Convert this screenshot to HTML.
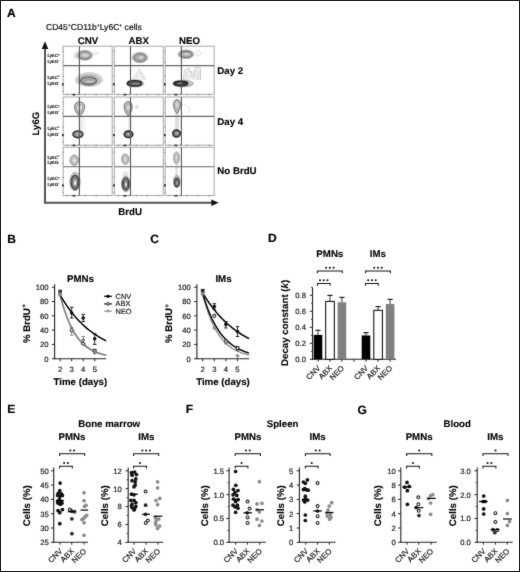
<!DOCTYPE html>
<html><head><meta charset="utf-8"><style>
html,body{margin:0;padding:0;background:#fff;}
svg{display:block;opacity:0.999;}
svg text{font-family:"Liberation Sans", sans-serif;text-rendering:geometricPrecision;}
</style></head><body>
<svg width="520" height="572" viewBox="0 0 520 572">
<defs><filter id="bl" x="-20%" y="-20%" width="140%" height="140%"><feGaussianBlur stdDeviation="0.5"/></filter>
<filter id="gb" x="0" y="0" width="520" height="572" filterUnits="userSpaceOnUse" color-interpolation-filters="sRGB"><feConvolveMatrix order="3" kernelMatrix="1 2 1 2 28 2 1 2 1" edgeMode="duplicate"/></filter></defs>
<rect x="0" y="0" width="520" height="572" fill="#fff"/>
<g filter="url(#gb)">
<text font-size="12" font-weight="bold" text-anchor="start" fill="#000" stroke="#000" stroke-width="0.2"  transform="translate(7.00,16.70) scale(1,1.0)">A</text>
<text font-size="8.55" fill="#111" stroke="#111" stroke-width="0.2" transform="translate(46,30.4) scale(1,1.0)">CD45<tspan font-size="5" dy="-3">+</tspan><tspan dy="3">CD11b</tspan><tspan font-size="5" dy="-3">+</tspan><tspan dy="3">Ly6C</tspan><tspan font-size="5" dy="-3">+</tspan><tspan dy="3"> cells</tspan></text>
<text font-size="9.7" font-weight="bold" text-anchor="middle" fill="#000" stroke="#000" stroke-width="0.12"  transform="translate(88.00,44.00) scale(1,1.0)">CNV</text>
<text font-size="9.7" font-weight="bold" text-anchor="middle" fill="#000" stroke="#000" stroke-width="0.12"  transform="translate(138.80,44.00) scale(1,1.0)">ABX</text>
<text font-size="9.7" font-weight="bold" text-anchor="middle" fill="#000" stroke="#000" stroke-width="0.12"  transform="translate(189.50,44.00) scale(1,1.0)">NEO</text>
<rect x="63.20" y="46.20" width="49" height="48.2" fill="#fff" stroke="#b0b0b0" stroke-width="1.1"/>
<g filter="url(#bl)">
<ellipse cx="76.50" cy="55.50" rx="3.00" ry="3.60" fill="#e2e2e2" fill-opacity="1.0"/>
<ellipse cx="84.80" cy="55.30" rx="8.00" ry="5.00" fill="#d2d2d2" stroke="#b0b0b0" stroke-width="0.8"/>
<ellipse cx="84.80" cy="55.30" rx="6.20" ry="3.80" fill="#b4b4b4" stroke="#777" stroke-width="1.1"/>
<ellipse cx="85.30" cy="55.30" rx="3.60" ry="2.10" fill="#d6d6d6" stroke="#a8a8a8" stroke-width="0.8"/>
<ellipse cx="96.00" cy="53.50" rx="3.00" ry="2.20" fill="#eeeeee" fill-opacity="1.0"/>
<ellipse cx="78.00" cy="80.50" rx="3.20" ry="3.40" fill="#e2e2e2" fill-opacity="1.0"/>
<ellipse cx="89.20" cy="79.60" rx="13.40" ry="6.90" fill="#dadada" stroke="#c0c0c0" stroke-width="0.8"/>
<ellipse cx="89.00" cy="80.20" rx="10.60" ry="5.30" fill="#c4c4c4" stroke="#a0a0a0" stroke-width="0.9"/>
<ellipse cx="88.60" cy="80.80" rx="8.00" ry="3.80" fill="#a4a4a4" stroke="#5a5a5a" stroke-width="1.1"/>
<ellipse cx="89.80" cy="81.50" rx="4.80" ry="1.40" fill="#cfcfcf" stroke="#8a8a8a" stroke-width="0.7"/>
</g>
<line x1="79.40" y1="46.20" x2="79.40" y2="94.40" stroke="#555" stroke-width="1.1" />
<line x1="63.20" y1="65.60" x2="112.20" y2="65.60" stroke="#666" stroke-width="1.1" />
<line x1="67.20" y1="93.80" x2="67.20" y2="95.40" stroke="#777" stroke-width="0.8" />
<line x1="72.20" y1="93.80" x2="72.20" y2="95.40" stroke="#777" stroke-width="0.8" />
<line x1="78.20" y1="93.80" x2="78.20" y2="95.40" stroke="#777" stroke-width="0.8" />
<line x1="85.20" y1="93.80" x2="85.20" y2="95.40" stroke="#777" stroke-width="0.8" />
<line x1="96.20" y1="93.80" x2="96.20" y2="95.40" stroke="#777" stroke-width="0.8" />
<line x1="107.20" y1="93.80" x2="107.20" y2="95.40" stroke="#777" stroke-width="0.8" />
<rect x="72.80" y="93.90" width="2.6" height="1.5" fill="#222"/>
<line x1="62.20" y1="51.20" x2="63.70" y2="51.20" stroke="#888" stroke-width="0.8" />
<line x1="62.20" y1="62.20" x2="63.70" y2="62.20" stroke="#888" stroke-width="0.8" />
<line x1="62.20" y1="76.20" x2="63.70" y2="76.20" stroke="#888" stroke-width="0.8" />
<line x1="62.20" y1="84.20" x2="63.70" y2="84.20" stroke="#888" stroke-width="0.8" />
<line x1="62.20" y1="91.20" x2="63.70" y2="91.20" stroke="#888" stroke-width="0.8" />
<rect x="62.00" y="83.20" width="1.6" height="2.2" fill="#222"/>
<rect x="114.30" y="46.20" width="49" height="48.2" fill="#fff" stroke="#b0b0b0" stroke-width="1.1"/>
<g filter="url(#bl)">
<ellipse cx="140.00" cy="57.60" rx="7.90" ry="5.20" fill="#c8c8c8" stroke="#a8a8a8" stroke-width="0.8"/>
<ellipse cx="140.00" cy="57.60" rx="6.00" ry="3.90" fill="#acacac" stroke="#777" stroke-width="1.1"/>
<ellipse cx="140.80" cy="57.40" rx="3.00" ry="2.00" fill="#d0d0d0" stroke="#a0a0a0" stroke-width="0.8"/>
<path d="M132,80 L139.5,68.5 L146,80" fill="#f0f0f0" stroke="#cfcfcf" stroke-width="0.7"/>
<path d="M135,80 L140,72 L144,80" fill="none" stroke="#d8d8d8" stroke-width="0.6"/>
<ellipse cx="135.00" cy="83.40" rx="9.00" ry="3.60" fill="#d8d8d8" stroke="#b0b0b0" stroke-width="0.8"/>
<ellipse cx="134.60" cy="83.40" rx="7.20" ry="2.70" fill="#555" stroke="#222" stroke-width="1.3"/>
<ellipse cx="135.80" cy="83.60" rx="4.00" ry="0.90" fill="#8a8a8a" fill-opacity="1.0"/>
</g>
<line x1="130.50" y1="46.20" x2="130.50" y2="94.40" stroke="#555" stroke-width="1.1" />
<line x1="114.30" y1="65.60" x2="163.30" y2="65.60" stroke="#666" stroke-width="1.1" />
<line x1="118.30" y1="93.80" x2="118.30" y2="95.40" stroke="#777" stroke-width="0.8" />
<line x1="123.30" y1="93.80" x2="123.30" y2="95.40" stroke="#777" stroke-width="0.8" />
<line x1="129.30" y1="93.80" x2="129.30" y2="95.40" stroke="#777" stroke-width="0.8" />
<line x1="136.30" y1="93.80" x2="136.30" y2="95.40" stroke="#777" stroke-width="0.8" />
<line x1="147.30" y1="93.80" x2="147.30" y2="95.40" stroke="#777" stroke-width="0.8" />
<line x1="158.30" y1="93.80" x2="158.30" y2="95.40" stroke="#777" stroke-width="0.8" />
<rect x="123.90" y="93.90" width="2.6" height="1.5" fill="#222"/>
<line x1="113.30" y1="51.20" x2="114.80" y2="51.20" stroke="#888" stroke-width="0.8" />
<line x1="113.30" y1="62.20" x2="114.80" y2="62.20" stroke="#888" stroke-width="0.8" />
<line x1="113.30" y1="76.20" x2="114.80" y2="76.20" stroke="#888" stroke-width="0.8" />
<line x1="113.30" y1="84.20" x2="114.80" y2="84.20" stroke="#888" stroke-width="0.8" />
<line x1="113.30" y1="91.20" x2="114.80" y2="91.20" stroke="#888" stroke-width="0.8" />
<rect x="113.10" y="83.20" width="1.6" height="2.2" fill="#222"/>
<rect x="165.20" y="46.20" width="49" height="48.2" fill="#fff" stroke="#b0b0b0" stroke-width="1.1"/>
<g filter="url(#bl)">
<ellipse cx="186.00" cy="54.30" rx="8.00" ry="4.30" fill="#cccccc" stroke="#aaaaaa" stroke-width="0.8"/>
<ellipse cx="186.00" cy="54.30" rx="6.20" ry="3.20" fill="#b0b0b0" stroke="#707070" stroke-width="1.1"/>
<ellipse cx="186.50" cy="54.30" rx="3.40" ry="1.60" fill="#d4d4d4" stroke="#a0a0a0" stroke-width="0.8"/>
<path d="M196,52 L199,50 L201,54 L197,56 Z" fill="none" stroke="#cccccc" stroke-width="0.6"/>
<path d="M183.5,80 L184.5,70 L189,68 L192.5,74 L196,67 L200.5,68 L200.5,80" fill="#f2f2f2" stroke="#b8b8b8" stroke-width="0.7"/>
<path d="M186,80 L187,72 L189.5,71 L193,77 L196.5,70 L198.5,71 L198.5,80" fill="none" stroke="#c4c4c4" stroke-width="0.6"/>
<path d="M188.5,80 L190,75 L193.5,79 L196.5,74 L197,80" fill="none" stroke="#cccccc" stroke-width="0.6"/>
<ellipse cx="183.00" cy="83.60" rx="10.40" ry="3.30" fill="#c8c8c8" stroke="#9a9a9a" stroke-width="0.8"/>
<ellipse cx="180.80" cy="83.60" rx="7.20" ry="2.50" fill="#3a3a3a" stroke="#222" stroke-width="1.1"/>
<ellipse cx="179.80" cy="83.30" rx="2.80" ry="0.80" fill="#8a8a8a" fill-opacity="1.0"/>
</g>
<line x1="181.40" y1="46.20" x2="181.40" y2="94.40" stroke="#555" stroke-width="1.1" />
<line x1="165.20" y1="65.60" x2="214.20" y2="65.60" stroke="#666" stroke-width="1.1" />
<line x1="169.20" y1="93.80" x2="169.20" y2="95.40" stroke="#777" stroke-width="0.8" />
<line x1="174.20" y1="93.80" x2="174.20" y2="95.40" stroke="#777" stroke-width="0.8" />
<line x1="180.20" y1="93.80" x2="180.20" y2="95.40" stroke="#777" stroke-width="0.8" />
<line x1="187.20" y1="93.80" x2="187.20" y2="95.40" stroke="#777" stroke-width="0.8" />
<line x1="198.20" y1="93.80" x2="198.20" y2="95.40" stroke="#777" stroke-width="0.8" />
<line x1="209.20" y1="93.80" x2="209.20" y2="95.40" stroke="#777" stroke-width="0.8" />
<rect x="174.80" y="93.90" width="2.6" height="1.5" fill="#222"/>
<line x1="164.20" y1="51.20" x2="165.70" y2="51.20" stroke="#888" stroke-width="0.8" />
<line x1="164.20" y1="62.20" x2="165.70" y2="62.20" stroke="#888" stroke-width="0.8" />
<line x1="164.20" y1="76.20" x2="165.70" y2="76.20" stroke="#888" stroke-width="0.8" />
<line x1="164.20" y1="84.20" x2="165.70" y2="84.20" stroke="#888" stroke-width="0.8" />
<line x1="164.20" y1="91.20" x2="165.70" y2="91.20" stroke="#888" stroke-width="0.8" />
<rect x="164.00" y="83.20" width="1.6" height="2.2" fill="#222"/>
<text font-size="4.6" fill="#000" stroke="#000" stroke-width="0.15" transform="translate(47.4,57.40) scale(1,1.0)">Ly6C<tspan font-size="3" dy="-1.6">+</tspan></text>
<text font-size="4.6" fill="#000" stroke="#000" stroke-width="0.15" transform="translate(47.4,63.00) scale(1,1.0)">Ly6G<tspan font-size="3" dy="-1.6">-</tspan></text>
<text font-size="4.6" fill="#000" stroke="#000" stroke-width="0.15" transform="translate(47.4,79.00) scale(1,1.0)">Ly6C<tspan font-size="3" dy="-1.6">+</tspan></text>
<text font-size="4.6" fill="#000" stroke="#000" stroke-width="0.15" transform="translate(47.4,84.90) scale(1,1.0)">Ly6G<tspan font-size="3" dy="-1.6">-</tspan></text>
<rect x="63.20" y="97.00" width="49" height="48.2" fill="#fff" stroke="#b0b0b0" stroke-width="1.1"/>
<g filter="url(#bl)">
<rect x="79.00" y="115.00" width="4.00" height="16.00" fill="#efefef"/>
<path d="M79.5,118 L80,130" stroke="#d0d0d0" stroke-width="0.8" stroke-dasharray="1.5 1"/>
<path d="M83,117 L83.5,130" stroke="#d6d6d6" stroke-width="0.8" stroke-dasharray="1.2 1.2"/>
<path d="M85,119 L86,131" stroke="#e0e0e0" stroke-width="0.7" stroke-dasharray="1 1.2"/>
<path d="M79.60,116.20 C72.50,111.16 72.20,101.80 79.60,101.80 C87.00,101.80 86.70,111.16 79.60,116.20Z" fill="#c0c0c0"/>
<ellipse cx="79.60" cy="107.27" rx="2.90" ry="3.17" fill="#dadada"/>
<path d="M79.6,116.2 C73.0,111 72.6,101.8 79.6,101.8 C86.6,101.8 86.2,111 79.6,116.2Z" fill="none" stroke="#7a7a7a" stroke-width="0.9"/>
<path d="M79.6,113.5 C75.2,110 75.0,104.3 79.6,104.3 C84.2,104.3 84.0,110 79.6,113.5Z" fill="none" stroke="#9a9a9a" stroke-width="0.8"/>
<ellipse cx="77.90" cy="134.30" rx="5.00" ry="3.40" fill="#888" stroke="#2a2a2a" stroke-width="1.4"/>
<ellipse cx="78.30" cy="134.30" rx="2.60" ry="1.40" fill="#b4b4b4" fill-opacity="1.0"/>
</g>
<line x1="79.40" y1="97.00" x2="79.40" y2="145.20" stroke="#555" stroke-width="1.1" />
<line x1="63.20" y1="116.40" x2="112.20" y2="116.40" stroke="#666" stroke-width="1.1" />
<line x1="67.20" y1="144.60" x2="67.20" y2="146.20" stroke="#777" stroke-width="0.8" />
<line x1="72.20" y1="144.60" x2="72.20" y2="146.20" stroke="#777" stroke-width="0.8" />
<line x1="78.20" y1="144.60" x2="78.20" y2="146.20" stroke="#777" stroke-width="0.8" />
<line x1="85.20" y1="144.60" x2="85.20" y2="146.20" stroke="#777" stroke-width="0.8" />
<line x1="96.20" y1="144.60" x2="96.20" y2="146.20" stroke="#777" stroke-width="0.8" />
<line x1="107.20" y1="144.60" x2="107.20" y2="146.20" stroke="#777" stroke-width="0.8" />
<rect x="72.80" y="144.70" width="2.6" height="1.5" fill="#222"/>
<line x1="62.20" y1="102.00" x2="63.70" y2="102.00" stroke="#888" stroke-width="0.8" />
<line x1="62.20" y1="113.00" x2="63.70" y2="113.00" stroke="#888" stroke-width="0.8" />
<line x1="62.20" y1="127.00" x2="63.70" y2="127.00" stroke="#888" stroke-width="0.8" />
<line x1="62.20" y1="135.00" x2="63.70" y2="135.00" stroke="#888" stroke-width="0.8" />
<line x1="62.20" y1="142.00" x2="63.70" y2="142.00" stroke="#888" stroke-width="0.8" />
<rect x="62.00" y="134.00" width="1.6" height="2.2" fill="#222"/>
<rect x="114.30" y="97.00" width="49" height="48.2" fill="#fff" stroke="#b0b0b0" stroke-width="1.1"/>
<g filter="url(#bl)">
<rect x="127.90" y="115.00" width="3.20" height="16.00" fill="#ededed"/>
<path d="M131,118 L131.5,130" stroke="#d8d8d8" stroke-width="0.7" stroke-dasharray="1.2 1.2"/>
<path d="M128.20,116.00 C122.50,110.96 122.20,101.60 128.20,101.60 C134.20,101.60 133.90,110.96 128.20,116.00Z" fill="#b8b8b8"/>
<ellipse cx="128.20" cy="107.07" rx="2.29" ry="3.17" fill="#d4d4d4"/>
<path d="M128.2,116 C123.0,111 122.6,101.6 128.2,101.6 C133.8,101.6 133.4,111 128.2,116Z" fill="none" stroke="#7a7a7a" stroke-width="0.9"/>
<path d="M128.2,113 C124.8,110 124.6,104.2 128.2,104.2 C131.8,104.2 131.6,110 128.2,113Z" fill="none" stroke="#9a9a9a" stroke-width="0.8"/>
<ellipse cx="137.00" cy="107.00" rx="2.20" ry="2.20" fill="#e6e6e6" fill-opacity="1.0"/>
<ellipse cx="128.50" cy="134.30" rx="4.40" ry="3.30" fill="#777" stroke="#222" stroke-width="1.4"/>
<ellipse cx="128.80" cy="134.30" rx="2.20" ry="1.30" fill="#aaaaaa" fill-opacity="1.0"/>
</g>
<line x1="130.50" y1="97.00" x2="130.50" y2="145.20" stroke="#555" stroke-width="1.1" />
<line x1="114.30" y1="116.40" x2="163.30" y2="116.40" stroke="#666" stroke-width="1.1" />
<line x1="118.30" y1="144.60" x2="118.30" y2="146.20" stroke="#777" stroke-width="0.8" />
<line x1="123.30" y1="144.60" x2="123.30" y2="146.20" stroke="#777" stroke-width="0.8" />
<line x1="129.30" y1="144.60" x2="129.30" y2="146.20" stroke="#777" stroke-width="0.8" />
<line x1="136.30" y1="144.60" x2="136.30" y2="146.20" stroke="#777" stroke-width="0.8" />
<line x1="147.30" y1="144.60" x2="147.30" y2="146.20" stroke="#777" stroke-width="0.8" />
<line x1="158.30" y1="144.60" x2="158.30" y2="146.20" stroke="#777" stroke-width="0.8" />
<rect x="123.90" y="144.70" width="2.6" height="1.5" fill="#222"/>
<line x1="113.30" y1="102.00" x2="114.80" y2="102.00" stroke="#888" stroke-width="0.8" />
<line x1="113.30" y1="113.00" x2="114.80" y2="113.00" stroke="#888" stroke-width="0.8" />
<line x1="113.30" y1="127.00" x2="114.80" y2="127.00" stroke="#888" stroke-width="0.8" />
<line x1="113.30" y1="135.00" x2="114.80" y2="135.00" stroke="#888" stroke-width="0.8" />
<line x1="113.30" y1="142.00" x2="114.80" y2="142.00" stroke="#888" stroke-width="0.8" />
<rect x="113.10" y="134.00" width="1.6" height="2.2" fill="#222"/>
<rect x="165.20" y="97.00" width="49" height="48.2" fill="#fff" stroke="#b0b0b0" stroke-width="1.1"/>
<g filter="url(#bl)">
<rect x="175.20" y="110.00" width="3.60" height="21.00" fill="#dcdcdc"/>
<path d="M181,104 L186,105 L190,110 L186,114" fill="none" stroke="#d8d8d8" stroke-width="0.7"/>
<path d="M180,118 L181,128" stroke="#d0d0d0" stroke-width="0.7" stroke-dasharray="1.2 1"/>
<path d="M177.00,113.60 C172.20,108.70 171.90,99.60 177.00,99.60 C182.10,99.60 181.80,108.70 177.00,113.60Z" fill="#b4b4b4"/>
<ellipse cx="177.00" cy="104.92" rx="1.89" ry="3.08" fill="#d0d0d0"/>
<path d="M177,113.6 C172.7,109 172.3,99.6 177,99.6 C181.7,99.6 181.3,109 177,113.6Z" fill="none" stroke="#6e6e6e" stroke-width="0.9"/>
<ellipse cx="176.50" cy="133.50" rx="3.80" ry="3.50" fill="#777" stroke="#2a2a2a" stroke-width="1.4"/>
<ellipse cx="176.80" cy="133.30" rx="1.80" ry="1.50" fill="#a8a8a8" fill-opacity="1.0"/>
</g>
<line x1="181.40" y1="97.00" x2="181.40" y2="145.20" stroke="#555" stroke-width="1.1" />
<line x1="165.20" y1="116.40" x2="214.20" y2="116.40" stroke="#666" stroke-width="1.1" />
<line x1="169.20" y1="144.60" x2="169.20" y2="146.20" stroke="#777" stroke-width="0.8" />
<line x1="174.20" y1="144.60" x2="174.20" y2="146.20" stroke="#777" stroke-width="0.8" />
<line x1="180.20" y1="144.60" x2="180.20" y2="146.20" stroke="#777" stroke-width="0.8" />
<line x1="187.20" y1="144.60" x2="187.20" y2="146.20" stroke="#777" stroke-width="0.8" />
<line x1="198.20" y1="144.60" x2="198.20" y2="146.20" stroke="#777" stroke-width="0.8" />
<line x1="209.20" y1="144.60" x2="209.20" y2="146.20" stroke="#777" stroke-width="0.8" />
<rect x="174.80" y="144.70" width="2.6" height="1.5" fill="#222"/>
<line x1="164.20" y1="102.00" x2="165.70" y2="102.00" stroke="#888" stroke-width="0.8" />
<line x1="164.20" y1="113.00" x2="165.70" y2="113.00" stroke="#888" stroke-width="0.8" />
<line x1="164.20" y1="127.00" x2="165.70" y2="127.00" stroke="#888" stroke-width="0.8" />
<line x1="164.20" y1="135.00" x2="165.70" y2="135.00" stroke="#888" stroke-width="0.8" />
<line x1="164.20" y1="142.00" x2="165.70" y2="142.00" stroke="#888" stroke-width="0.8" />
<rect x="164.00" y="134.00" width="1.6" height="2.2" fill="#222"/>
<text font-size="4.6" fill="#000" stroke="#000" stroke-width="0.15" transform="translate(47.4,108.20) scale(1,1.0)">Ly6C<tspan font-size="3" dy="-1.6">+</tspan></text>
<text font-size="4.6" fill="#000" stroke="#000" stroke-width="0.15" transform="translate(47.4,113.80) scale(1,1.0)">Ly6G<tspan font-size="3" dy="-1.6">-</tspan></text>
<text font-size="4.6" fill="#000" stroke="#000" stroke-width="0.15" transform="translate(47.4,129.80) scale(1,1.0)">Ly6C<tspan font-size="3" dy="-1.6">+</tspan></text>
<text font-size="4.6" fill="#000" stroke="#000" stroke-width="0.15" transform="translate(47.4,135.70) scale(1,1.0)">Ly6G<tspan font-size="3" dy="-1.6">-</tspan></text>
<rect x="63.20" y="147.30" width="49" height="48.2" fill="#fff" stroke="#b0b0b0" stroke-width="1.1"/>
<g filter="url(#bl)">
<ellipse cx="74.30" cy="160.20" rx="4.30" ry="5.20" fill="#c8c8c8" stroke="#8e8e8e" stroke-width="0.9"/>
<ellipse cx="74.30" cy="160.20" rx="2.80" ry="3.40" fill="#d0d0d0" stroke="#a4a4a4" stroke-width="0.8"/>
<ellipse cx="74.60" cy="160.50" rx="1.20" ry="1.60" fill="#e4e4e4" fill-opacity="1.0"/>
<ellipse cx="75.50" cy="174.50" rx="3.50" ry="3.50" fill="#e4e4e4" fill-opacity="1.0"/>
<ellipse cx="75.00" cy="181.80" rx="5.20" ry="9.00" fill="#c8c8c8" stroke="#9a9a9a" stroke-width="0.8"/>
<ellipse cx="75.00" cy="182.30" rx="3.90" ry="7.00" fill="#8c8c8c" stroke="#3a3a3a" stroke-width="1.2"/>
<ellipse cx="75.00" cy="182.60" rx="2.30" ry="4.40" fill="#b8b8b8" stroke="#555" stroke-width="0.9"/>
<ellipse cx="75.20" cy="183.00" rx="1.00" ry="1.80" fill="#f4f4f4" fill-opacity="1.0"/>
</g>
<line x1="79.40" y1="147.30" x2="79.40" y2="195.50" stroke="#555" stroke-width="1.1" />
<line x1="63.20" y1="166.70" x2="112.20" y2="166.70" stroke="#666" stroke-width="1.1" />
<line x1="67.20" y1="194.90" x2="67.20" y2="196.50" stroke="#777" stroke-width="0.8" />
<line x1="72.20" y1="194.90" x2="72.20" y2="196.50" stroke="#777" stroke-width="0.8" />
<line x1="78.20" y1="194.90" x2="78.20" y2="196.50" stroke="#777" stroke-width="0.8" />
<line x1="85.20" y1="194.90" x2="85.20" y2="196.50" stroke="#777" stroke-width="0.8" />
<line x1="96.20" y1="194.90" x2="96.20" y2="196.50" stroke="#777" stroke-width="0.8" />
<line x1="107.20" y1="194.90" x2="107.20" y2="196.50" stroke="#777" stroke-width="0.8" />
<rect x="72.80" y="195.00" width="2.6" height="1.5" fill="#222"/>
<line x1="62.20" y1="152.30" x2="63.70" y2="152.30" stroke="#888" stroke-width="0.8" />
<line x1="62.20" y1="163.30" x2="63.70" y2="163.30" stroke="#888" stroke-width="0.8" />
<line x1="62.20" y1="177.30" x2="63.70" y2="177.30" stroke="#888" stroke-width="0.8" />
<line x1="62.20" y1="185.30" x2="63.70" y2="185.30" stroke="#888" stroke-width="0.8" />
<line x1="62.20" y1="192.30" x2="63.70" y2="192.30" stroke="#888" stroke-width="0.8" />
<rect x="62.00" y="184.30" width="1.6" height="2.2" fill="#222"/>
<rect x="114.30" y="147.30" width="49" height="48.2" fill="#fff" stroke="#b0b0b0" stroke-width="1.1"/>
<g filter="url(#bl)">
<ellipse cx="125.30" cy="159.20" rx="3.70" ry="5.20" fill="#c8c8c8" stroke="#8e8e8e" stroke-width="0.9"/>
<ellipse cx="125.30" cy="159.20" rx="2.30" ry="3.30" fill="#d0d0d0" stroke="#a4a4a4" stroke-width="0.8"/>
<ellipse cx="125.60" cy="159.50" rx="1.00" ry="1.50" fill="#e0e0e0" fill-opacity="1.0"/>
<ellipse cx="125.50" cy="175.00" rx="3.00" ry="3.50" fill="#e4e4e4" fill-opacity="1.0"/>
<ellipse cx="125.80" cy="184.00" rx="4.30" ry="7.80" fill="#b8b8b8" stroke="#888" stroke-width="0.8"/>
<ellipse cx="125.80" cy="184.00" rx="3.20" ry="6.00" fill="#7a7a7a" stroke="#333" stroke-width="1.2"/>
<ellipse cx="125.80" cy="184.30" rx="1.80" ry="3.50" fill="#b0b0b0" stroke="#555" stroke-width="0.8"/>
<ellipse cx="126.00" cy="184.50" rx="0.80" ry="1.50" fill="#eeeeee" fill-opacity="1.0"/>
</g>
<line x1="130.50" y1="147.30" x2="130.50" y2="195.50" stroke="#555" stroke-width="1.1" />
<line x1="114.30" y1="166.70" x2="163.30" y2="166.70" stroke="#666" stroke-width="1.1" />
<line x1="118.30" y1="194.90" x2="118.30" y2="196.50" stroke="#777" stroke-width="0.8" />
<line x1="123.30" y1="194.90" x2="123.30" y2="196.50" stroke="#777" stroke-width="0.8" />
<line x1="129.30" y1="194.90" x2="129.30" y2="196.50" stroke="#777" stroke-width="0.8" />
<line x1="136.30" y1="194.90" x2="136.30" y2="196.50" stroke="#777" stroke-width="0.8" />
<line x1="147.30" y1="194.90" x2="147.30" y2="196.50" stroke="#777" stroke-width="0.8" />
<line x1="158.30" y1="194.90" x2="158.30" y2="196.50" stroke="#777" stroke-width="0.8" />
<rect x="123.90" y="195.00" width="2.6" height="1.5" fill="#222"/>
<line x1="113.30" y1="152.30" x2="114.80" y2="152.30" stroke="#888" stroke-width="0.8" />
<line x1="113.30" y1="163.30" x2="114.80" y2="163.30" stroke="#888" stroke-width="0.8" />
<line x1="113.30" y1="177.30" x2="114.80" y2="177.30" stroke="#888" stroke-width="0.8" />
<line x1="113.30" y1="185.30" x2="114.80" y2="185.30" stroke="#888" stroke-width="0.8" />
<line x1="113.30" y1="192.30" x2="114.80" y2="192.30" stroke="#888" stroke-width="0.8" />
<rect x="113.10" y="184.30" width="1.6" height="2.2" fill="#222"/>
<rect x="165.20" y="147.30" width="49" height="48.2" fill="#fff" stroke="#b0b0b0" stroke-width="1.1"/>
<g filter="url(#bl)">
<ellipse cx="176.50" cy="158.00" rx="3.00" ry="6.20" fill="#c4c4c4" stroke="#a0a0a0" stroke-width="0.8"/>
<ellipse cx="176.50" cy="158.00" rx="1.80" ry="4.20" fill="#d8d8d8" stroke="#a0a0a0" stroke-width="0.8"/>
<rect x="175.40" y="164.00" width="2.20" height="12.00" fill="#dcdcdc"/>
<ellipse cx="176.80" cy="181.50" rx="3.30" ry="6.20" fill="#c4c4c4" stroke="#9a9a9a" stroke-width="0.8"/>
<ellipse cx="176.80" cy="182.50" rx="2.50" ry="4.50" fill="#666" stroke="#3a3a3a" stroke-width="1.0"/>
<ellipse cx="177.00" cy="183.00" rx="1.10" ry="2.00" fill="#9a9a9a" fill-opacity="1.0"/>
</g>
<line x1="181.40" y1="147.30" x2="181.40" y2="195.50" stroke="#555" stroke-width="1.1" />
<line x1="165.20" y1="166.70" x2="214.20" y2="166.70" stroke="#666" stroke-width="1.1" />
<line x1="169.20" y1="194.90" x2="169.20" y2="196.50" stroke="#777" stroke-width="0.8" />
<line x1="174.20" y1="194.90" x2="174.20" y2="196.50" stroke="#777" stroke-width="0.8" />
<line x1="180.20" y1="194.90" x2="180.20" y2="196.50" stroke="#777" stroke-width="0.8" />
<line x1="187.20" y1="194.90" x2="187.20" y2="196.50" stroke="#777" stroke-width="0.8" />
<line x1="198.20" y1="194.90" x2="198.20" y2="196.50" stroke="#777" stroke-width="0.8" />
<line x1="209.20" y1="194.90" x2="209.20" y2="196.50" stroke="#777" stroke-width="0.8" />
<rect x="174.80" y="195.00" width="2.6" height="1.5" fill="#222"/>
<line x1="164.20" y1="152.30" x2="165.70" y2="152.30" stroke="#888" stroke-width="0.8" />
<line x1="164.20" y1="163.30" x2="165.70" y2="163.30" stroke="#888" stroke-width="0.8" />
<line x1="164.20" y1="177.30" x2="165.70" y2="177.30" stroke="#888" stroke-width="0.8" />
<line x1="164.20" y1="185.30" x2="165.70" y2="185.30" stroke="#888" stroke-width="0.8" />
<line x1="164.20" y1="192.30" x2="165.70" y2="192.30" stroke="#888" stroke-width="0.8" />
<rect x="164.00" y="184.30" width="1.6" height="2.2" fill="#222"/>
<text font-size="4.6" fill="#000" stroke="#000" stroke-width="0.15" transform="translate(47.4,158.50) scale(1,1.0)">Ly6C<tspan font-size="3" dy="-1.6">+</tspan></text>
<text font-size="4.6" fill="#000" stroke="#000" stroke-width="0.15" transform="translate(47.4,164.10) scale(1,1.0)">Ly6G<tspan font-size="3" dy="-1.6">-</tspan></text>
<text font-size="4.6" fill="#000" stroke="#000" stroke-width="0.15" transform="translate(47.4,180.10) scale(1,1.0)">Ly6C<tspan font-size="3" dy="-1.6">+</tspan></text>
<text font-size="4.6" fill="#000" stroke="#000" stroke-width="0.15" transform="translate(47.4,186.00) scale(1,1.0)">Ly6G<tspan font-size="3" dy="-1.6">-</tspan></text>
<line x1="45.00" y1="203.60" x2="45.00" y2="47.50" stroke="#555" stroke-width="2" />
<polygon points="45,41.2 41.7,49 48.3,49" fill="#111"/>
<line x1="44.00" y1="202.70" x2="212.00" y2="202.70" stroke="#555" stroke-width="2" />
<polygon points="218.6,202.7 211.4,199.5 211.4,205.9" fill="#111"/>
<text font-size="9.6" font-weight="bold" text-anchor="middle" fill="#000" stroke="#000" stroke-width="0.12" transform="translate(39.2,123.6) rotate(-90) scale(1,1.0)">Ly6G</text>
<text font-size="9.7" font-weight="bold" text-anchor="middle" fill="#000" stroke="#000" stroke-width="0.12"  transform="translate(130.20,214.60) scale(1,1.0)">BrdU</text>
<text font-size="9.7" font-weight="bold" text-anchor="start" fill="#000" stroke="#000" stroke-width="0.12"  transform="translate(217.30,73.60) scale(1,1.0)">Day 2</text>
<text font-size="9.7" font-weight="bold" text-anchor="start" fill="#000" stroke="#000" stroke-width="0.12"  transform="translate(217.30,124.60) scale(1,1.0)">Day 4</text>
<text font-size="9.7" font-weight="bold" text-anchor="start" fill="#000" stroke="#000" stroke-width="0.12"  transform="translate(217.30,174.30) scale(1,1.0)">No BrdU</text>
<line x1="54.60" y1="284.20" x2="54.60" y2="359.20" stroke="#222" stroke-width="1.1" />
<line x1="54.10" y1="358.70" x2="106.20" y2="358.70" stroke="#222" stroke-width="1.1" />
<line x1="51.90" y1="358.70" x2="54.60" y2="358.70" stroke="#222" stroke-width="1" />
<text font-size="7.7" text-anchor="end" fill="#222" stroke="#222" stroke-width="0.2"  transform="translate(48.60,361.60) scale(1,1.0)">0</text>
<line x1="51.90" y1="344.41" x2="54.60" y2="344.41" stroke="#222" stroke-width="1" />
<text font-size="7.7" text-anchor="end" fill="#222" stroke="#222" stroke-width="0.2"  transform="translate(48.60,347.31) scale(1,1.0)">20</text>
<line x1="51.90" y1="330.12" x2="54.60" y2="330.12" stroke="#222" stroke-width="1" />
<text font-size="7.7" text-anchor="end" fill="#222" stroke="#222" stroke-width="0.2"  transform="translate(48.60,333.02) scale(1,1.0)">40</text>
<line x1="51.90" y1="315.83" x2="54.60" y2="315.83" stroke="#222" stroke-width="1" />
<text font-size="7.7" text-anchor="end" fill="#222" stroke="#222" stroke-width="0.2"  transform="translate(48.60,318.73) scale(1,1.0)">60</text>
<line x1="51.90" y1="301.54" x2="54.60" y2="301.54" stroke="#222" stroke-width="1" />
<text font-size="7.7" text-anchor="end" fill="#222" stroke="#222" stroke-width="0.2"  transform="translate(48.60,304.44) scale(1,1.0)">80</text>
<line x1="51.90" y1="287.25" x2="54.60" y2="287.25" stroke="#222" stroke-width="1" />
<text font-size="7.7" text-anchor="end" fill="#222" stroke="#222" stroke-width="0.2"  transform="translate(48.60,290.15) scale(1,1.0)">100</text>
<line x1="60.20" y1="358.70" x2="60.20" y2="361.30" stroke="#222" stroke-width="1" />
<text font-size="7.7" text-anchor="middle" fill="#222" stroke="#222" stroke-width="0.2"  transform="translate(60.20,371.70) scale(1,1.0)">2</text>
<line x1="71.70" y1="358.70" x2="71.70" y2="361.30" stroke="#222" stroke-width="1" />
<text font-size="7.7" text-anchor="middle" fill="#222" stroke="#222" stroke-width="0.2"  transform="translate(71.70,371.70) scale(1,1.0)">3</text>
<line x1="83.20" y1="358.70" x2="83.20" y2="361.30" stroke="#222" stroke-width="1" />
<text font-size="7.7" text-anchor="middle" fill="#222" stroke="#222" stroke-width="0.2"  transform="translate(83.20,371.70) scale(1,1.0)">4</text>
<line x1="94.80" y1="358.70" x2="94.80" y2="361.30" stroke="#222" stroke-width="1" />
<text font-size="7.7" text-anchor="middle" fill="#222" stroke="#222" stroke-width="0.2"  transform="translate(94.80,371.70) scale(1,1.0)">5</text>
<text font-size="9.7" font-weight="bold" text-anchor="middle" fill="#000" stroke="#000" stroke-width="0.12"  transform="translate(80.50,281.60) scale(1,1.0)">PMNs</text>
<text font-size="9.7" font-weight="bold" text-anchor="middle" fill="#000" stroke="#000" stroke-width="0.12"  transform="translate(80.40,385.30) scale(1,1.0)">Time (days)</text>
<text font-size="9.7" font-weight="bold" stroke="#000" stroke-width="0.12" text-anchor="middle" transform="translate(29.80,323.6) rotate(-90) scale(1,1.0)">% BrdU<tspan font-size="6.4" dy="-3.5" dx="0.3">+</tspan></text>
<polyline points="60.20,295.11 61.35,299.53 62.50,303.64 63.65,307.46 64.80,311.02 65.95,314.33 67.10,317.42 68.25,320.28 69.40,322.95 70.55,325.44 71.70,327.75 72.85,329.90 74.00,331.90 75.15,333.76 76.30,335.49 77.45,337.10 78.60,338.61 79.75,340.00 80.90,341.30 82.05,342.51 83.20,343.63 84.35,344.68 85.50,345.65 86.65,346.56 87.80,347.40 88.95,348.19 90.10,348.92 91.25,349.60 92.40,350.23 93.55,350.82 94.70,351.37 95.85,351.88 97.00,352.35 98.15,352.79 99.30,353.20 100.45,353.58 101.60,353.94 102.75,354.27 103.90,354.58 105.05,354.86 106.20,355.13" fill="none" stroke="#808080" stroke-width="1.5"/>
<polyline points="60.20,295.11 61.35,299.65 62.50,303.86 63.65,307.77 64.80,311.40 65.95,314.78 67.10,317.91 68.25,320.82 69.40,323.52 70.55,326.03 71.70,328.36 72.85,330.52 74.00,332.53 75.15,334.40 76.30,336.13 77.45,337.74 78.60,339.24 79.75,340.63 80.90,341.92 82.05,343.11 83.20,344.22 84.35,345.26 85.50,346.22 86.65,347.11 87.80,347.93 88.95,348.70 90.10,349.41 91.25,350.08 92.40,350.69 93.55,351.26 94.70,351.79 95.85,352.29 97.00,352.74 98.15,353.17 99.30,353.56 100.45,353.93 101.60,354.27 102.75,354.59 103.90,354.88 105.05,355.15 106.20,355.40" fill="none" stroke="#888" stroke-width="1.4"/>
<polyline points="60.20,295.11 61.35,297.10 62.50,299.03 63.65,300.90 64.80,302.70 65.95,304.46 67.10,306.16 68.25,307.80 69.40,309.39 70.55,310.94 71.70,312.43 72.85,313.88 74.00,315.28 75.15,316.64 76.30,317.96 77.45,319.23 78.60,320.47 79.75,321.66 80.90,322.82 82.05,323.95 83.20,325.03 84.35,326.09 85.50,327.11 86.65,328.10 87.80,329.06 88.95,329.98 90.10,330.88 91.25,331.75 92.40,332.60 93.55,333.41 94.70,334.21 95.85,334.97 97.00,335.71 98.15,336.43 99.30,337.13 100.45,337.81 101.60,338.46 102.75,339.09 103.90,339.71 105.05,340.30 106.20,340.88" fill="none" stroke="#000" stroke-width="1.5"/>
<line x1="60.20" y1="294.39" x2="60.20" y2="290.11" stroke="#222" stroke-width="0.9" />
<line x1="58.40" y1="294.39" x2="62.00" y2="294.39" stroke="#222" stroke-width="0.9" />
<line x1="58.40" y1="290.11" x2="62.00" y2="290.11" stroke="#222" stroke-width="0.9" />
<rect x="58.40" y="290.45" width="3.6" height="3.6" fill="#222"/>
<line x1="60.20" y1="295.82" x2="60.20" y2="292.97" stroke="#888" stroke-width="0.9" />
<line x1="58.40" y1="295.82" x2="62.00" y2="295.82" stroke="#888" stroke-width="0.9" />
<line x1="58.40" y1="292.97" x2="62.00" y2="292.97" stroke="#888" stroke-width="0.9" />
<rect x="58.40" y="292.59" width="3.6" height="3.6" fill="#888"/>
<line x1="71.70" y1="317.97" x2="71.70" y2="307.26" stroke="#111" stroke-width="0.9" />
<line x1="69.90" y1="317.97" x2="73.50" y2="317.97" stroke="#111" stroke-width="0.9" />
<line x1="69.90" y1="307.26" x2="73.50" y2="307.26" stroke="#111" stroke-width="0.9" />
<circle cx="71.70" cy="312.97" r="1.8" fill="#111"/>
<line x1="71.70" y1="335.12" x2="71.70" y2="327.26" stroke="#777" stroke-width="0.9" />
<line x1="69.90" y1="335.12" x2="73.50" y2="335.12" stroke="#777" stroke-width="0.9" />
<line x1="69.90" y1="327.26" x2="73.50" y2="327.26" stroke="#777" stroke-width="0.9" />
<polygon points="71.70,328.73 73.80,330.83 71.70,332.93 69.60,330.83" fill="#777"/>
<circle cx="71.70" cy="330.12" r="1.5" fill="#fff" stroke="#555" stroke-width="1.1"/>
<line x1="83.20" y1="321.55" x2="83.20" y2="314.40" stroke="#111" stroke-width="0.9" />
<line x1="81.40" y1="321.55" x2="85.00" y2="321.55" stroke="#111" stroke-width="0.9" />
<line x1="81.40" y1="314.40" x2="85.00" y2="314.40" stroke="#111" stroke-width="0.9" />
<circle cx="83.20" cy="317.97" r="1.8" fill="#111"/>
<line x1="83.20" y1="343.70" x2="83.20" y2="336.55" stroke="#777" stroke-width="0.9" />
<line x1="81.40" y1="343.70" x2="85.00" y2="343.70" stroke="#777" stroke-width="0.9" />
<line x1="81.40" y1="336.55" x2="85.00" y2="336.55" stroke="#777" stroke-width="0.9" />
<polygon points="83.20,338.02 85.30,340.12 83.20,342.22 81.10,340.12" fill="#777"/>
<circle cx="83.20" cy="343.70" r="1.5" fill="#fff" stroke="#333" stroke-width="1.1"/>
<line x1="94.70" y1="344.41" x2="94.70" y2="333.69" stroke="#111" stroke-width="0.9" />
<line x1="92.90" y1="344.41" x2="96.50" y2="344.41" stroke="#111" stroke-width="0.9" />
<line x1="92.90" y1="333.69" x2="96.50" y2="333.69" stroke="#111" stroke-width="0.9" />
<circle cx="94.70" cy="338.69" r="1.8" fill="#111"/>
<line x1="94.70" y1="352.98" x2="94.70" y2="349.41" stroke="#333" stroke-width="0.9" />
<line x1="92.90" y1="352.98" x2="96.50" y2="352.98" stroke="#333" stroke-width="0.9" />
<line x1="92.90" y1="349.41" x2="96.50" y2="349.41" stroke="#333" stroke-width="0.9" />
<circle cx="94.70" cy="350.84" r="1.5" fill="#fff" stroke="#333" stroke-width="1.1"/>
<polygon points="94.70,350.88 96.80,352.98 94.70,355.08 92.60,352.98" fill="#888"/>
<line x1="104.20" y1="296.30" x2="111.90" y2="296.30" stroke="#000" stroke-width="1.3" />
<circle cx="108" cy="296.3" r="1.6" fill="#000"/>
<text font-size="7.4" text-anchor="start" fill="#222" stroke="#222" stroke-width="0.2"  transform="translate(115.60,298.80) scale(1,1.0)">CNV</text>
<line x1="104.20" y1="303.90" x2="111.90" y2="303.90" stroke="#222" stroke-width="1.3" />
<circle cx="108" cy="303.9" r="1.4" fill="#fff" stroke="#222" stroke-width="1"/>
<text font-size="7.4" text-anchor="start" fill="#222" stroke="#222" stroke-width="0.2"  transform="translate(115.60,306.40) scale(1,1.0)">ABX</text>
<line x1="104.20" y1="311.10" x2="111.90" y2="311.10" stroke="#999" stroke-width="1.3" />
<polygon points="108,309.3 109.8,311.1 108,312.90000000000003 106.2,311.1" fill="#999"/>
<text font-size="7.4" text-anchor="start" fill="#222" stroke="#222" stroke-width="0.2"  transform="translate(115.60,313.60) scale(1,1.0)">NEO</text>
<text font-size="12" font-weight="bold" text-anchor="start" fill="#000" stroke="#000" stroke-width="0.2"  transform="translate(155.00,242.50) scale(1,1.0)"></text>
<line x1="196.90" y1="284.20" x2="196.90" y2="359.20" stroke="#222" stroke-width="1.1" />
<line x1="196.40" y1="358.70" x2="249.10" y2="358.70" stroke="#222" stroke-width="1.1" />
<line x1="194.20" y1="358.70" x2="196.90" y2="358.70" stroke="#222" stroke-width="1" />
<text font-size="7.7" text-anchor="end" fill="#222" stroke="#222" stroke-width="0.2"  transform="translate(190.90,361.60) scale(1,1.0)">0</text>
<line x1="194.20" y1="344.41" x2="196.90" y2="344.41" stroke="#222" stroke-width="1" />
<text font-size="7.7" text-anchor="end" fill="#222" stroke="#222" stroke-width="0.2"  transform="translate(190.90,347.31) scale(1,1.0)">20</text>
<line x1="194.20" y1="330.12" x2="196.90" y2="330.12" stroke="#222" stroke-width="1" />
<text font-size="7.7" text-anchor="end" fill="#222" stroke="#222" stroke-width="0.2"  transform="translate(190.90,333.02) scale(1,1.0)">40</text>
<line x1="194.20" y1="315.83" x2="196.90" y2="315.83" stroke="#222" stroke-width="1" />
<text font-size="7.7" text-anchor="end" fill="#222" stroke="#222" stroke-width="0.2"  transform="translate(190.90,318.73) scale(1,1.0)">60</text>
<line x1="194.20" y1="301.54" x2="196.90" y2="301.54" stroke="#222" stroke-width="1" />
<text font-size="7.7" text-anchor="end" fill="#222" stroke="#222" stroke-width="0.2"  transform="translate(190.90,304.44) scale(1,1.0)">80</text>
<line x1="194.20" y1="287.25" x2="196.90" y2="287.25" stroke="#222" stroke-width="1" />
<text font-size="7.7" text-anchor="end" fill="#222" stroke="#222" stroke-width="0.2"  transform="translate(190.90,290.15) scale(1,1.0)">100</text>
<line x1="202.70" y1="358.70" x2="202.70" y2="361.30" stroke="#222" stroke-width="1" />
<text font-size="7.7" text-anchor="middle" fill="#222" stroke="#222" stroke-width="0.2"  transform="translate(202.70,371.70) scale(1,1.0)">2</text>
<line x1="214.30" y1="358.70" x2="214.30" y2="361.30" stroke="#222" stroke-width="1" />
<text font-size="7.7" text-anchor="middle" fill="#222" stroke="#222" stroke-width="0.2"  transform="translate(214.30,371.70) scale(1,1.0)">3</text>
<line x1="225.90" y1="358.70" x2="225.90" y2="361.30" stroke="#222" stroke-width="1" />
<text font-size="7.7" text-anchor="middle" fill="#222" stroke="#222" stroke-width="0.2"  transform="translate(225.90,371.70) scale(1,1.0)">4</text>
<line x1="237.50" y1="358.70" x2="237.50" y2="361.30" stroke="#222" stroke-width="1" />
<text font-size="7.7" text-anchor="middle" fill="#222" stroke="#222" stroke-width="0.2"  transform="translate(237.50,371.70) scale(1,1.0)">5</text>
<text font-size="9.7" font-weight="bold" text-anchor="middle" fill="#000" stroke="#000" stroke-width="0.12"  transform="translate(223.50,281.60) scale(1,1.0)">IMs</text>
<text font-size="9.7" font-weight="bold" text-anchor="middle" fill="#000" stroke="#000" stroke-width="0.12"  transform="translate(223.00,385.30) scale(1,1.0)">Time (days)</text>
<text font-size="9.7" font-weight="bold" stroke="#000" stroke-width="0.12" text-anchor="middle" transform="translate(172.10,323.6) rotate(-90) scale(1,1.0)">% BrdU<tspan font-size="6.4" dy="-3.5" dx="0.3">+</tspan></text>
<polyline points="202.70,293.68 203.86,298.20 205.02,302.40 206.18,306.31 207.34,309.95 208.50,313.34 209.66,316.49 210.82,319.42 211.98,322.15 213.14,324.69 214.30,327.05 215.46,329.25 216.62,331.30 217.78,333.20 218.94,334.97 220.10,336.62 221.26,338.15 222.42,339.58 223.58,340.91 224.74,342.15 225.90,343.30 227.06,344.37 228.22,345.36 229.38,346.29 230.54,347.15 231.70,347.95 232.86,348.70 234.02,349.39 235.18,350.04 236.34,350.64 237.50,351.20 238.66,351.72 239.82,352.21 240.98,352.66 242.14,353.08 243.30,353.47 244.46,353.83 245.62,354.17 246.78,354.48 247.94,354.78 249.10,355.05" fill="none" stroke="#888" stroke-width="1.3"/>
<polyline points="202.70,293.68 203.86,297.53 205.02,301.15 206.18,304.55 207.34,307.76 208.50,310.77 209.66,313.61 210.82,316.28 211.98,318.79 213.14,321.15 214.30,323.37 215.46,325.46 216.62,327.43 217.78,329.28 218.94,331.02 220.10,332.66 221.26,334.20 222.42,335.65 223.58,337.01 224.74,338.30 225.90,339.50 227.06,340.64 228.22,341.71 229.38,342.71 230.54,343.66 231.70,344.55 232.86,345.39 234.02,346.18 235.18,346.92 236.34,347.61 237.50,348.27 238.66,348.89 239.82,349.47 240.98,350.01 242.14,350.53 243.30,351.01 244.46,351.47 245.62,351.89 246.78,352.30 247.94,352.68 249.10,353.03" fill="none" stroke="#111" stroke-width="1.6"/>
<polyline points="202.70,292.97 203.86,294.89 205.02,296.76 206.18,298.57 207.34,300.33 208.50,302.04 209.66,303.70 210.82,305.31 211.98,306.87 213.14,308.38 214.30,309.86 215.46,311.29 216.62,312.67 217.78,314.02 218.94,315.33 220.10,316.60 221.26,317.83 222.42,319.03 223.58,320.19 224.74,321.31 225.90,322.41 227.06,323.47 228.22,324.50 229.38,325.50 230.54,326.47 231.70,327.42 232.86,328.33 234.02,329.22 235.18,330.08 236.34,330.92 237.50,331.73 238.66,332.52 239.82,333.29 240.98,334.03 242.14,334.75 243.30,335.45 244.46,336.13 245.62,336.79 246.78,337.44 247.94,338.06 249.10,338.66" fill="none" stroke="#111" stroke-width="1.6"/>
<line x1="202.70" y1="292.97" x2="202.70" y2="289.39" stroke="#222" stroke-width="0.9" />
<line x1="200.90" y1="292.97" x2="204.50" y2="292.97" stroke="#222" stroke-width="0.9" />
<line x1="200.90" y1="289.39" x2="204.50" y2="289.39" stroke="#222" stroke-width="0.9" />
<rect x="200.90" y="289.02" width="3.6" height="3.6" fill="#222"/>
<rect x="200.90" y="291.88" width="3.6" height="3.6" fill="#888"/>
<line x1="214.30" y1="309.40" x2="214.30" y2="303.68" stroke="#111" stroke-width="0.9" />
<line x1="212.50" y1="309.40" x2="216.10" y2="309.40" stroke="#111" stroke-width="0.9" />
<line x1="212.50" y1="303.68" x2="216.10" y2="303.68" stroke="#111" stroke-width="0.9" />
<circle cx="214.30" cy="306.54" r="1.8" fill="#111"/>
<circle cx="214.30" cy="315.83" r="1.5" fill="#fff" stroke="#333" stroke-width="1.1"/>
<polygon points="214.30,325.88 216.40,327.98 214.30,330.08 212.20,327.98" fill="#888"/>
<line x1="225.90" y1="327.98" x2="225.90" y2="321.55" stroke="#111" stroke-width="0.9" />
<line x1="224.10" y1="327.98" x2="227.70" y2="327.98" stroke="#111" stroke-width="0.9" />
<line x1="224.10" y1="321.55" x2="227.70" y2="321.55" stroke="#111" stroke-width="0.9" />
<circle cx="225.90" cy="324.40" r="1.8" fill="#111"/>
<line x1="225.90" y1="343.70" x2="225.90" y2="339.41" stroke="#555" stroke-width="0.9" />
<line x1="224.10" y1="343.70" x2="227.70" y2="343.70" stroke="#555" stroke-width="0.9" />
<line x1="224.10" y1="339.41" x2="227.70" y2="339.41" stroke="#555" stroke-width="0.9" />
<circle cx="225.90" cy="341.55" r="1.5" fill="#fff" stroke="#555" stroke-width="1.1"/>
<polygon points="225.90,340.88 228.00,342.98 225.90,345.08 223.80,342.98" fill="#888"/>
<line x1="237.50" y1="336.55" x2="237.50" y2="326.55" stroke="#111" stroke-width="0.9" />
<line x1="235.70" y1="336.55" x2="239.30" y2="336.55" stroke="#111" stroke-width="0.9" />
<line x1="235.70" y1="326.55" x2="239.30" y2="326.55" stroke="#111" stroke-width="0.9" />
<circle cx="237.50" cy="331.55" r="1.8" fill="#111"/>
<line x1="237.50" y1="350.13" x2="237.50" y2="346.55" stroke="#222" stroke-width="0.9" />
<line x1="235.70" y1="350.13" x2="239.30" y2="350.13" stroke="#222" stroke-width="0.9" />
<line x1="235.70" y1="346.55" x2="239.30" y2="346.55" stroke="#222" stroke-width="0.9" />
<circle cx="237.50" cy="347.98" r="1.5" fill="#fff" stroke="#222" stroke-width="1.1"/>
<polygon points="237.50,353.74 239.60,355.84 237.50,357.94 235.40,355.84" fill="#888"/>
<text font-size="12" font-weight="bold" text-anchor="start" fill="#000" stroke="#000" stroke-width="0.2"  transform="translate(7.30,242.50) scale(1,1.0)">B</text>
<text font-size="12" font-weight="bold" text-anchor="start" fill="#000" stroke="#000" stroke-width="0.2"  transform="translate(150.20,242.50) scale(1,1.0)">C</text>
<text font-size="12" font-weight="bold" text-anchor="start" fill="#000" stroke="#000" stroke-width="0.2"  transform="translate(268.00,242.30) scale(1,1.0)">D</text>
<line x1="312.50" y1="287.50" x2="312.50" y2="359.80" stroke="#222" stroke-width="1.1" />
<line x1="312.00" y1="359.30" x2="396.00" y2="359.30" stroke="#222" stroke-width="1.1" />
<line x1="309.80" y1="359.30" x2="312.50" y2="359.30" stroke="#222" stroke-width="1" />
<text font-size="7.7" text-anchor="end" fill="#222" stroke="#222" stroke-width="0.2"  transform="translate(306.00,362.20) scale(1,1.0)">0.0</text>
<line x1="309.80" y1="343.30" x2="312.50" y2="343.30" stroke="#222" stroke-width="1" />
<text font-size="7.7" text-anchor="end" fill="#222" stroke="#222" stroke-width="0.2"  transform="translate(306.00,346.20) scale(1,1.0)">0.2</text>
<line x1="309.80" y1="327.30" x2="312.50" y2="327.30" stroke="#222" stroke-width="1" />
<text font-size="7.7" text-anchor="end" fill="#222" stroke="#222" stroke-width="0.2"  transform="translate(306.00,330.20) scale(1,1.0)">0.4</text>
<line x1="309.80" y1="311.30" x2="312.50" y2="311.30" stroke="#222" stroke-width="1" />
<text font-size="7.7" text-anchor="end" fill="#222" stroke="#222" stroke-width="0.2"  transform="translate(306.00,314.20) scale(1,1.0)">0.6</text>
<line x1="309.80" y1="295.30" x2="312.50" y2="295.30" stroke="#222" stroke-width="1" />
<text font-size="7.7" text-anchor="end" fill="#222" stroke="#222" stroke-width="0.2"  transform="translate(306.00,298.20) scale(1,1.0)">0.8</text>
<line x1="310.90" y1="351.30" x2="312.50" y2="351.30" stroke="#222" stroke-width="0.8" />
<line x1="310.90" y1="335.30" x2="312.50" y2="335.30" stroke="#222" stroke-width="0.8" />
<line x1="310.90" y1="319.30" x2="312.50" y2="319.30" stroke="#222" stroke-width="0.8" />
<line x1="310.90" y1="303.30" x2="312.50" y2="303.30" stroke="#222" stroke-width="0.8" />
<line x1="310.90" y1="287.30" x2="312.50" y2="287.30" stroke="#222" stroke-width="0.8" />
<text font-size="9.7" font-weight="bold" stroke="#000" stroke-width="0.12" text-anchor="middle" transform="translate(288.3,322.9) rotate(-90) scale(1,1.0)">Decay constant (<tspan font-style="italic">k</tspan>)</text>
<line x1="318.00" y1="334.90" x2="318.00" y2="330.30" stroke="#555" stroke-width="1.2" />
<line x1="315.40" y1="330.30" x2="320.60" y2="330.30" stroke="#222" stroke-width="1.2" />
<rect x="313.70" y="334.90" width="8.6" height="24.40" fill="#000" stroke="#000" stroke-width="0"/>
<line x1="330.00" y1="301.38" x2="330.00" y2="295.38" stroke="#555" stroke-width="1.2" />
<line x1="327.40" y1="295.38" x2="332.60" y2="295.38" stroke="#222" stroke-width="1.2" />
<rect x="325.70" y="301.38" width="8.6" height="57.92" fill="#fff" stroke="#000" stroke-width="1"/>
<line x1="341.90" y1="302.26" x2="341.90" y2="297.38" stroke="#555" stroke-width="1.2" />
<line x1="339.30" y1="297.38" x2="344.50" y2="297.38" stroke="#222" stroke-width="1.2" />
<rect x="337.60" y="302.26" width="8.6" height="57.04" fill="#808080" stroke="#000" stroke-width="0"/>
<line x1="366.00" y1="335.46" x2="366.00" y2="332.66" stroke="#555" stroke-width="1.2" />
<line x1="363.40" y1="332.66" x2="368.60" y2="332.66" stroke="#222" stroke-width="1.2" />
<rect x="361.70" y="335.46" width="8.6" height="23.84" fill="#000" stroke="#000" stroke-width="0"/>
<line x1="378.10" y1="310.30" x2="378.10" y2="306.58" stroke="#555" stroke-width="1.2" />
<line x1="375.50" y1="306.58" x2="380.70" y2="306.58" stroke="#222" stroke-width="1.2" />
<rect x="373.80" y="310.30" width="8.6" height="49.00" fill="#fff" stroke="#000" stroke-width="1"/>
<line x1="390.10" y1="304.02" x2="390.10" y2="299.38" stroke="#555" stroke-width="1.2" />
<line x1="387.50" y1="299.38" x2="392.70" y2="299.38" stroke="#222" stroke-width="1.2" />
<rect x="385.80" y="304.02" width="8.6" height="55.28" fill="#808080" stroke="#000" stroke-width="0"/>
<line x1="318.20" y1="359.30" x2="318.20" y2="361.70" stroke="#222" stroke-width="1" />
<line x1="330.00" y1="359.30" x2="330.00" y2="361.70" stroke="#222" stroke-width="1" />
<line x1="341.80" y1="359.30" x2="341.80" y2="361.70" stroke="#222" stroke-width="1" />
<line x1="354.00" y1="359.30" x2="354.00" y2="361.70" stroke="#222" stroke-width="1" />
<line x1="366.00" y1="359.30" x2="366.00" y2="361.70" stroke="#222" stroke-width="1" />
<line x1="378.00" y1="359.30" x2="378.00" y2="361.70" stroke="#222" stroke-width="1" />
<line x1="390.00" y1="359.30" x2="390.00" y2="361.70" stroke="#222" stroke-width="1" />
<text font-size="7.8" fill="#222" stroke="#222" stroke-width="0.2" text-anchor="end" transform="translate(321.00,368.60) rotate(-45) scale(1,1.0)">CNV</text>
<text font-size="7.8" fill="#222" stroke="#222" stroke-width="0.2" text-anchor="end" transform="translate(332.80,368.60) rotate(-45) scale(1,1.0)">ABX</text>
<text font-size="7.8" fill="#222" stroke="#222" stroke-width="0.2" text-anchor="end" transform="translate(344.60,368.60) rotate(-45) scale(1,1.0)">NEO</text>
<text font-size="7.8" fill="#222" stroke="#222" stroke-width="0.2" text-anchor="end" transform="translate(368.80,368.60) rotate(-45) scale(1,1.0)">CNV</text>
<text font-size="7.8" fill="#222" stroke="#222" stroke-width="0.2" text-anchor="end" transform="translate(380.80,368.60) rotate(-45) scale(1,1.0)">ABX</text>
<text font-size="7.8" fill="#222" stroke="#222" stroke-width="0.2" text-anchor="end" transform="translate(392.80,368.60) rotate(-45) scale(1,1.0)">NEO</text>
<text font-size="9.7" font-weight="bold" text-anchor="middle" fill="#000" stroke="#000" stroke-width="0.12"  transform="translate(329.80,256.50) scale(1,1.0)">PMNs</text>
<text font-size="9.7" font-weight="bold" text-anchor="middle" fill="#000" stroke="#000" stroke-width="0.12"  transform="translate(377.90,256.50) scale(1,1.0)">IMs</text>
<polyline points="317.40,273.20 317.40,270.90 342.30,270.90 342.30,273.20" fill="none" stroke="#111" stroke-width="1.05"/>
<circle cx="326.10" cy="267.70" r="1.05" fill="#111"/>
<circle cx="329.85" cy="267.70" r="1.05" fill="#111"/>
<circle cx="333.60" cy="267.70" r="1.05" fill="#111"/>
<polyline points="317.40,285.80 317.40,283.50 330.10,283.50 330.10,285.80" fill="none" stroke="#111" stroke-width="1.05"/>
<circle cx="320.00" cy="280.30" r="1.05" fill="#111"/>
<circle cx="323.75" cy="280.30" r="1.05" fill="#111"/>
<circle cx="327.50" cy="280.30" r="1.05" fill="#111"/>
<polyline points="365.60,273.20 365.60,270.90 390.40,270.90 390.40,273.20" fill="none" stroke="#111" stroke-width="1.05"/>
<circle cx="374.25" cy="267.70" r="1.05" fill="#111"/>
<circle cx="378.00" cy="267.70" r="1.05" fill="#111"/>
<circle cx="381.75" cy="267.70" r="1.05" fill="#111"/>
<polyline points="365.60,285.80 365.60,283.50 378.20,283.50 378.20,285.80" fill="none" stroke="#111" stroke-width="1.05"/>
<circle cx="368.15" cy="280.30" r="1.05" fill="#111"/>
<circle cx="371.90" cy="280.30" r="1.05" fill="#111"/>
<circle cx="375.65" cy="280.30" r="1.05" fill="#111"/>
<text font-size="12" font-weight="bold" text-anchor="start" fill="#000" stroke="#000" stroke-width="0.2"  transform="translate(7.30,412.80) scale(1,1.0)">E</text>
<text font-size="12" font-weight="bold" text-anchor="start" fill="#000" stroke="#000" stroke-width="0.2"  transform="translate(185.80,413.30) scale(1,1.0)">F</text>
<text font-size="12" font-weight="bold" text-anchor="start" fill="#000" stroke="#000" stroke-width="0.2"  transform="translate(357.50,413.70) scale(1,1.0)">G</text>
<text font-size="9.7" font-weight="bold" text-anchor="middle" fill="#000" stroke="#000" stroke-width="0.12"  transform="translate(109.20,427.00) scale(1,1.0)">Bone marrow</text>
<text font-size="9.7" font-weight="bold" text-anchor="middle" fill="#000" stroke="#000" stroke-width="0.12"  transform="translate(282.60,427.00) scale(1,1.0)">Spleen</text>
<text font-size="9.7" font-weight="bold" text-anchor="middle" fill="#000" stroke="#000" stroke-width="0.12"  transform="translate(457.20,427.00) scale(1,1.0)">Blood</text>
<line x1="53.70" y1="467.50" x2="53.70" y2="542.80" stroke="#222" stroke-width="1.1" />
<line x1="53.20" y1="542.30" x2="88.00" y2="542.30" stroke="#222" stroke-width="1.1" />
<line x1="51.00" y1="542.30" x2="53.70" y2="542.30" stroke="#222" stroke-width="1" />
<text font-size="7.7" text-anchor="end" fill="#222" stroke="#222" stroke-width="0.2"  transform="translate(48.70,545.20) scale(1,1.0)">25</text>
<line x1="51.00" y1="528.00" x2="53.70" y2="528.00" stroke="#222" stroke-width="1" />
<text font-size="7.7" text-anchor="end" fill="#222" stroke="#222" stroke-width="0.2"  transform="translate(48.70,530.90) scale(1,1.0)">30</text>
<line x1="51.00" y1="513.70" x2="53.70" y2="513.70" stroke="#222" stroke-width="1" />
<text font-size="7.7" text-anchor="end" fill="#222" stroke="#222" stroke-width="0.2"  transform="translate(48.70,516.60) scale(1,1.0)">35</text>
<line x1="51.00" y1="499.40" x2="53.70" y2="499.40" stroke="#222" stroke-width="1" />
<text font-size="7.7" text-anchor="end" fill="#222" stroke="#222" stroke-width="0.2"  transform="translate(48.70,502.30) scale(1,1.0)">40</text>
<line x1="51.00" y1="485.10" x2="53.70" y2="485.10" stroke="#222" stroke-width="1" />
<text font-size="7.7" text-anchor="end" fill="#222" stroke="#222" stroke-width="0.2"  transform="translate(48.70,488.00) scale(1,1.0)">45</text>
<line x1="51.00" y1="470.80" x2="53.70" y2="470.80" stroke="#222" stroke-width="1" />
<text font-size="7.7" text-anchor="end" fill="#222" stroke="#222" stroke-width="0.2"  transform="translate(48.70,473.70) scale(1,1.0)">50</text>
<line x1="60.10" y1="542.30" x2="60.10" y2="544.70" stroke="#222" stroke-width="1" />
<line x1="71.80" y1="542.30" x2="71.80" y2="544.70" stroke="#222" stroke-width="1" />
<line x1="84.00" y1="542.30" x2="84.00" y2="544.70" stroke="#222" stroke-width="1" />
<text font-size="7.8" fill="#222" stroke="#222" stroke-width="0.2" text-anchor="end" transform="translate(62.90,551.60) rotate(-45) scale(1,1.0)">CNV</text>
<text font-size="7.8" fill="#222" stroke="#222" stroke-width="0.2" text-anchor="end" transform="translate(74.60,551.60) rotate(-45) scale(1,1.0)">ABX</text>
<text font-size="7.8" fill="#222" stroke="#222" stroke-width="0.2" text-anchor="end" transform="translate(86.80,551.60) rotate(-45) scale(1,1.0)">NEO</text>
<text font-size="9.7" font-weight="bold" stroke="#000" stroke-width="0.12" text-anchor="middle" transform="translate(29.80,505.7) rotate(-90) scale(1,1.0)">Cells (%)</text>
<text font-size="9.7" font-weight="bold" text-anchor="middle" fill="#000" stroke="#000" stroke-width="0.12"  transform="translate(72.00,439.80) scale(1,1.0)">PMNs</text>
<polyline points="59.70,456.00 59.70,453.70 84.70,453.70 84.70,456.00" fill="none" stroke="#111" stroke-width="1.05"/>
<circle cx="70.33" cy="450.50" r="1.05" fill="#111"/>
<circle cx="74.08" cy="450.50" r="1.05" fill="#111"/>
<polyline points="59.70,468.50 59.70,466.20 72.30,466.20 72.30,468.50" fill="none" stroke="#111" stroke-width="1.05"/>
<circle cx="64.12" cy="463.00" r="1.05" fill="#111"/>
<circle cx="67.88" cy="463.00" r="1.05" fill="#111"/>
<circle cx="60.10" cy="483.10" r="1.85" fill="#111"/>
<circle cx="59.80" cy="490.70" r="1.85" fill="#111"/>
<circle cx="58.20" cy="493.30" r="1.85" fill="#111"/>
<circle cx="61.40" cy="493.80" r="1.85" fill="#111"/>
<circle cx="57.70" cy="495.40" r="1.85" fill="#111"/>
<circle cx="62.40" cy="495.40" r="1.85" fill="#111"/>
<circle cx="59.80" cy="496.50" r="1.85" fill="#111"/>
<circle cx="57.70" cy="501.20" r="1.85" fill="#111"/>
<circle cx="61.40" cy="501.70" r="1.85" fill="#111"/>
<circle cx="58.80" cy="503.30" r="1.85" fill="#111"/>
<circle cx="60.30" cy="504.30" r="1.85" fill="#111"/>
<circle cx="57.70" cy="502.80" r="1.85" fill="#111"/>
<circle cx="61.90" cy="503.30" r="1.85" fill="#111"/>
<circle cx="59.50" cy="499.50" r="1.85" fill="#111"/>
<circle cx="58.00" cy="510.60" r="1.85" fill="#111"/>
<circle cx="62.40" cy="509.60" r="1.85" fill="#111"/>
<circle cx="59.80" cy="512.70" r="1.85" fill="#111"/>
<circle cx="59.80" cy="523.70" r="1.85" fill="#111"/>
<line x1="56.10" y1="500.70" x2="64.00" y2="500.70" stroke="#000" stroke-width="1.2" />
<circle cx="69.80" cy="509.60" r="1.45" fill="#fff" stroke="#2a2a2a" stroke-width="1.15"/>
<circle cx="71.90" cy="511.20" r="1.85" fill="#2a2a2a"/>
<circle cx="74.50" cy="511.70" r="1.45" fill="#fff" stroke="#2a2a2a" stroke-width="1.15"/>
<circle cx="71.90" cy="518.80" r="1.85" fill="#2a2a2a"/>
<circle cx="71.90" cy="533.70" r="1.85" fill="#2a2a2a"/>
<line x1="67.70" y1="511.70" x2="75.60" y2="511.70" stroke="#000" stroke-width="1.2" />
<circle cx="84.00" cy="492.80" r="1.85" fill="#8c8c8c"/>
<circle cx="84.00" cy="500.70" r="1.85" fill="#8c8c8c"/>
<circle cx="86.00" cy="505.40" r="1.85" fill="#8c8c8c"/>
<circle cx="84.50" cy="506.40" r="1.85" fill="#8c8c8c"/>
<circle cx="86.60" cy="515.30" r="1.85" fill="#8c8c8c"/>
<circle cx="85.00" cy="516.90" r="1.85" fill="#8c8c8c"/>
<circle cx="83.40" cy="518.50" r="1.85" fill="#8c8c8c"/>
<circle cx="81.90" cy="519.50" r="1.85" fill="#8c8c8c"/>
<circle cx="84.00" cy="522.70" r="1.85" fill="#8c8c8c"/>
<circle cx="84.00" cy="535.30" r="1.85" fill="#8c8c8c"/>
<line x1="80.50" y1="510.10" x2="88.20" y2="510.10" stroke="#000" stroke-width="1.2" />
<line x1="128.20" y1="467.50" x2="128.20" y2="542.80" stroke="#222" stroke-width="1.1" />
<line x1="127.70" y1="542.30" x2="163.20" y2="542.30" stroke="#222" stroke-width="1.1" />
<line x1="125.50" y1="542.30" x2="128.20" y2="542.30" stroke="#222" stroke-width="1" />
<text font-size="7.7" text-anchor="end" fill="#222" stroke="#222" stroke-width="0.2"  transform="translate(121.90,545.20) scale(1,1.0)">4</text>
<line x1="125.50" y1="524.42" x2="128.20" y2="524.42" stroke="#222" stroke-width="1" />
<text font-size="7.7" text-anchor="end" fill="#222" stroke="#222" stroke-width="0.2"  transform="translate(121.90,527.32) scale(1,1.0)">6</text>
<line x1="125.50" y1="506.55" x2="128.20" y2="506.55" stroke="#222" stroke-width="1" />
<text font-size="7.7" text-anchor="end" fill="#222" stroke="#222" stroke-width="0.2"  transform="translate(121.90,509.45) scale(1,1.0)">8</text>
<line x1="125.50" y1="488.68" x2="128.20" y2="488.68" stroke="#222" stroke-width="1" />
<text font-size="7.7" text-anchor="end" fill="#222" stroke="#222" stroke-width="0.2"  transform="translate(121.90,491.57) scale(1,1.0)">10</text>
<line x1="125.50" y1="470.80" x2="128.20" y2="470.80" stroke="#222" stroke-width="1" />
<text font-size="7.7" text-anchor="end" fill="#222" stroke="#222" stroke-width="0.2"  transform="translate(121.90,473.70) scale(1,1.0)">12</text>
<line x1="126.60" y1="533.36" x2="128.20" y2="533.36" stroke="#222" stroke-width="0.8" />
<line x1="126.60" y1="515.49" x2="128.20" y2="515.49" stroke="#222" stroke-width="0.8" />
<line x1="126.60" y1="497.61" x2="128.20" y2="497.61" stroke="#222" stroke-width="0.8" />
<line x1="126.60" y1="479.74" x2="128.20" y2="479.74" stroke="#222" stroke-width="0.8" />
<line x1="134.00" y1="542.30" x2="134.00" y2="544.70" stroke="#222" stroke-width="1" />
<line x1="146.00" y1="542.30" x2="146.00" y2="544.70" stroke="#222" stroke-width="1" />
<line x1="158.00" y1="542.30" x2="158.00" y2="544.70" stroke="#222" stroke-width="1" />
<text font-size="7.8" fill="#222" stroke="#222" stroke-width="0.2" text-anchor="end" transform="translate(136.80,551.60) rotate(-45) scale(1,1.0)">CNV</text>
<text font-size="7.8" fill="#222" stroke="#222" stroke-width="0.2" text-anchor="end" transform="translate(148.80,551.60) rotate(-45) scale(1,1.0)">ABX</text>
<text font-size="7.8" fill="#222" stroke="#222" stroke-width="0.2" text-anchor="end" transform="translate(160.80,551.60) rotate(-45) scale(1,1.0)">NEO</text>
<text font-size="9.7" font-weight="bold" stroke="#000" stroke-width="0.12" text-anchor="middle" transform="translate(108.00,505.7) rotate(-90) scale(1,1.0)">Cells (%)</text>
<text font-size="9.7" font-weight="bold" text-anchor="middle" fill="#000" stroke="#000" stroke-width="0.12"  transform="translate(146.40,439.80) scale(1,1.0)">IMs</text>
<polyline points="133.60,456.00 133.60,453.70 158.70,453.70 158.70,456.00" fill="none" stroke="#111" stroke-width="1.05"/>
<circle cx="142.40" cy="450.50" r="1.05" fill="#111"/>
<circle cx="146.15" cy="450.50" r="1.05" fill="#111"/>
<circle cx="149.90" cy="450.50" r="1.05" fill="#111"/>
<polyline points="133.60,468.50 133.60,466.20 146.50,466.20 146.50,468.50" fill="none" stroke="#111" stroke-width="1.05"/>
<circle cx="140.05" cy="463.00" r="1.05" fill="#111"/>
<circle cx="131.50" cy="472.70" r="1.85" fill="#111"/>
<circle cx="134.60" cy="472.10" r="1.85" fill="#111"/>
<circle cx="136.40" cy="474.60" r="1.85" fill="#111"/>
<circle cx="132.10" cy="475.20" r="1.85" fill="#111"/>
<circle cx="132.10" cy="480.70" r="1.85" fill="#111"/>
<circle cx="135.80" cy="478.90" r="1.85" fill="#111"/>
<circle cx="135.20" cy="481.90" r="1.85" fill="#111"/>
<circle cx="135.20" cy="485.00" r="1.85" fill="#111"/>
<circle cx="134.00" cy="486.80" r="1.85" fill="#111"/>
<circle cx="131.50" cy="494.20" r="1.85" fill="#111"/>
<circle cx="134.00" cy="494.80" r="1.85" fill="#111"/>
<circle cx="130.90" cy="500.30" r="1.85" fill="#111"/>
<circle cx="134.00" cy="500.30" r="1.85" fill="#111"/>
<circle cx="132.10" cy="504.00" r="1.85" fill="#111"/>
<circle cx="135.80" cy="502.70" r="1.85" fill="#111"/>
<circle cx="131.50" cy="505.80" r="1.85" fill="#111"/>
<circle cx="135.80" cy="506.40" r="1.85" fill="#111"/>
<circle cx="132.10" cy="507.60" r="1.85" fill="#111"/>
<circle cx="134.60" cy="508.80" r="1.85" fill="#111"/>
<circle cx="134.00" cy="510.00" r="1.85" fill="#111"/>
<line x1="130.60" y1="494.20" x2="138.00" y2="494.20" stroke="#000" stroke-width="1.2" />
<circle cx="145.60" cy="491.50" r="1.45" fill="#fff" stroke="#2a2a2a" stroke-width="1.15"/>
<circle cx="145.60" cy="505.20" r="1.85" fill="#2a2a2a"/>
<circle cx="145.60" cy="514.30" r="1.85" fill="#2a2a2a"/>
<circle cx="147.80" cy="520.50" r="1.45" fill="#fff" stroke="#2a2a2a" stroke-width="1.15"/>
<circle cx="145.80" cy="522.90" r="1.45" fill="#fff" stroke="#2a2a2a" stroke-width="1.15"/>
<line x1="142.00" y1="514.30" x2="150.00" y2="514.30" stroke="#000" stroke-width="1.2" />
<circle cx="157.60" cy="481.90" r="1.85" fill="#8c8c8c"/>
<circle cx="157.60" cy="487.80" r="1.85" fill="#8c8c8c"/>
<circle cx="159.70" cy="498.40" r="1.85" fill="#8c8c8c"/>
<circle cx="156.00" cy="500.50" r="1.85" fill="#8c8c8c"/>
<circle cx="157.60" cy="504.60" r="1.85" fill="#8c8c8c"/>
<circle cx="155.40" cy="517.40" r="1.85" fill="#8c8c8c"/>
<circle cx="158.80" cy="519.00" r="1.85" fill="#8c8c8c"/>
<circle cx="156.20" cy="520.50" r="1.85" fill="#8c8c8c"/>
<circle cx="155.40" cy="523.00" r="1.85" fill="#8c8c8c"/>
<circle cx="156.00" cy="524.80" r="1.85" fill="#8c8c8c"/>
<circle cx="159.70" cy="526.00" r="1.85" fill="#8c8c8c"/>
<circle cx="157.60" cy="528.40" r="1.85" fill="#8c8c8c"/>
<line x1="153.60" y1="516.20" x2="162.40" y2="516.20" stroke="#000" stroke-width="1.2" />
<line x1="229.10" y1="467.50" x2="229.10" y2="542.80" stroke="#222" stroke-width="1.1" />
<line x1="228.60" y1="542.30" x2="265.80" y2="542.30" stroke="#222" stroke-width="1.1" />
<line x1="226.40" y1="542.30" x2="229.10" y2="542.30" stroke="#222" stroke-width="1" />
<text font-size="7.7" text-anchor="end" fill="#222" stroke="#222" stroke-width="0.2"  transform="translate(224.10,545.20) scale(1,1.0)">0.0</text>
<line x1="226.40" y1="518.47" x2="229.10" y2="518.47" stroke="#222" stroke-width="1" />
<text font-size="7.7" text-anchor="end" fill="#222" stroke="#222" stroke-width="0.2"  transform="translate(224.10,521.37) scale(1,1.0)">0.5</text>
<line x1="226.40" y1="494.63" x2="229.10" y2="494.63" stroke="#222" stroke-width="1" />
<text font-size="7.7" text-anchor="end" fill="#222" stroke="#222" stroke-width="0.2"  transform="translate(224.10,497.53) scale(1,1.0)">1.0</text>
<line x1="226.40" y1="470.80" x2="229.10" y2="470.80" stroke="#222" stroke-width="1" />
<text font-size="7.7" text-anchor="end" fill="#222" stroke="#222" stroke-width="0.2"  transform="translate(224.10,473.70) scale(1,1.0)">1.5</text>
<line x1="227.50" y1="530.38" x2="229.10" y2="530.38" stroke="#222" stroke-width="0.8" />
<line x1="227.50" y1="506.55" x2="229.10" y2="506.55" stroke="#222" stroke-width="0.8" />
<line x1="227.50" y1="482.72" x2="229.10" y2="482.72" stroke="#222" stroke-width="0.8" />
<line x1="235.60" y1="542.30" x2="235.60" y2="544.70" stroke="#222" stroke-width="1" />
<line x1="247.40" y1="542.30" x2="247.40" y2="544.70" stroke="#222" stroke-width="1" />
<line x1="259.70" y1="542.30" x2="259.70" y2="544.70" stroke="#222" stroke-width="1" />
<text font-size="7.8" fill="#222" stroke="#222" stroke-width="0.2" text-anchor="end" transform="translate(238.40,551.60) rotate(-45) scale(1,1.0)">CNV</text>
<text font-size="7.8" fill="#222" stroke="#222" stroke-width="0.2" text-anchor="end" transform="translate(250.20,551.60) rotate(-45) scale(1,1.0)">ABX</text>
<text font-size="7.8" fill="#222" stroke="#222" stroke-width="0.2" text-anchor="end" transform="translate(262.50,551.60) rotate(-45) scale(1,1.0)">NEO</text>
<text font-size="9.7" font-weight="bold" stroke="#000" stroke-width="0.12" text-anchor="middle" transform="translate(208.00,505.7) rotate(-90) scale(1,1.0)">Cells (%)</text>
<text font-size="9.7" font-weight="bold" text-anchor="middle" fill="#000" stroke="#000" stroke-width="0.12"  transform="translate(247.90,439.80) scale(1,1.0)">PMNs</text>
<polyline points="235.20,456.00 235.20,453.70 260.40,453.70 260.40,456.00" fill="none" stroke="#111" stroke-width="1.05"/>
<circle cx="245.92" cy="450.50" r="1.05" fill="#111"/>
<circle cx="249.67" cy="450.50" r="1.05" fill="#111"/>
<polyline points="235.20,468.50 235.20,466.20 247.90,466.20 247.90,468.50" fill="none" stroke="#111" stroke-width="1.05"/>
<circle cx="241.55" cy="463.00" r="1.05" fill="#111"/>
<circle cx="235.60" cy="471.50" r="1.85" fill="#111"/>
<circle cx="235.80" cy="485.30" r="1.85" fill="#111"/>
<circle cx="233.40" cy="489.30" r="1.85" fill="#111"/>
<circle cx="238.00" cy="490.50" r="1.85" fill="#111"/>
<circle cx="235.00" cy="492.30" r="1.85" fill="#111"/>
<circle cx="233.10" cy="494.80" r="1.85" fill="#111"/>
<circle cx="236.80" cy="495.40" r="1.85" fill="#111"/>
<circle cx="233.70" cy="499.00" r="1.85" fill="#111"/>
<circle cx="238.00" cy="499.70" r="1.85" fill="#111"/>
<circle cx="235.60" cy="501.50" r="1.85" fill="#111"/>
<circle cx="233.10" cy="505.20" r="1.85" fill="#111"/>
<circle cx="237.40" cy="505.20" r="1.85" fill="#111"/>
<circle cx="235.00" cy="507.00" r="1.85" fill="#111"/>
<circle cx="238.00" cy="508.20" r="1.85" fill="#111"/>
<circle cx="235.60" cy="512.30" r="1.85" fill="#111"/>
<line x1="231.50" y1="499.50" x2="240.00" y2="499.50" stroke="#000" stroke-width="1.2" />
<circle cx="247.60" cy="501.50" r="1.45" fill="#fff" stroke="#2a2a2a" stroke-width="1.15"/>
<circle cx="249.60" cy="508.60" r="1.45" fill="#fff" stroke="#2a2a2a" stroke-width="1.15"/>
<circle cx="247.20" cy="512.80" r="1.85" fill="#2a2a2a"/>
<circle cx="247.60" cy="517.40" r="1.45" fill="#fff" stroke="#2a2a2a" stroke-width="1.15"/>
<circle cx="247.60" cy="522.90" r="1.45" fill="#fff" stroke="#2a2a2a" stroke-width="1.15"/>
<line x1="243.50" y1="512.80" x2="252.10" y2="512.80" stroke="#000" stroke-width="1.2" />
<circle cx="259.40" cy="481.70" r="1.85" fill="#8c8c8c"/>
<circle cx="257.00" cy="503.90" r="1.85" fill="#8c8c8c"/>
<circle cx="261.90" cy="503.30" r="1.85" fill="#8c8c8c"/>
<circle cx="257.00" cy="509.80" r="1.85" fill="#8c8c8c"/>
<circle cx="259.40" cy="511.90" r="1.85" fill="#8c8c8c"/>
<circle cx="257.00" cy="519.20" r="1.85" fill="#8c8c8c"/>
<circle cx="261.90" cy="521.10" r="1.85" fill="#8c8c8c"/>
<circle cx="259.40" cy="525.40" r="1.85" fill="#8c8c8c"/>
<line x1="255.80" y1="509.80" x2="264.00" y2="509.80" stroke="#000" stroke-width="1.2" />
<line x1="299.40" y1="467.50" x2="299.40" y2="542.80" stroke="#222" stroke-width="1.1" />
<line x1="298.90" y1="542.30" x2="335.60" y2="542.30" stroke="#222" stroke-width="1.1" />
<line x1="296.70" y1="542.30" x2="299.40" y2="542.30" stroke="#222" stroke-width="1" />
<text font-size="7.7" text-anchor="end" fill="#222" stroke="#222" stroke-width="0.2"  transform="translate(293.40,545.20) scale(1,1.0)">0</text>
<line x1="296.70" y1="528.00" x2="299.40" y2="528.00" stroke="#222" stroke-width="1" />
<text font-size="7.7" text-anchor="end" fill="#222" stroke="#222" stroke-width="0.2"  transform="translate(293.40,530.90) scale(1,1.0)">1</text>
<line x1="296.70" y1="513.70" x2="299.40" y2="513.70" stroke="#222" stroke-width="1" />
<text font-size="7.7" text-anchor="end" fill="#222" stroke="#222" stroke-width="0.2"  transform="translate(293.40,516.60) scale(1,1.0)">2</text>
<line x1="296.70" y1="499.40" x2="299.40" y2="499.40" stroke="#222" stroke-width="1" />
<text font-size="7.7" text-anchor="end" fill="#222" stroke="#222" stroke-width="0.2"  transform="translate(293.40,502.30) scale(1,1.0)">3</text>
<line x1="296.70" y1="485.10" x2="299.40" y2="485.10" stroke="#222" stroke-width="1" />
<text font-size="7.7" text-anchor="end" fill="#222" stroke="#222" stroke-width="0.2"  transform="translate(293.40,488.00) scale(1,1.0)">4</text>
<line x1="296.70" y1="470.80" x2="299.40" y2="470.80" stroke="#222" stroke-width="1" />
<text font-size="7.7" text-anchor="end" fill="#222" stroke="#222" stroke-width="0.2"  transform="translate(293.40,473.70) scale(1,1.0)">5</text>
<line x1="305.80" y1="542.30" x2="305.80" y2="544.70" stroke="#222" stroke-width="1" />
<line x1="317.60" y1="542.30" x2="317.60" y2="544.70" stroke="#222" stroke-width="1" />
<line x1="329.40" y1="542.30" x2="329.40" y2="544.70" stroke="#222" stroke-width="1" />
<text font-size="7.8" fill="#222" stroke="#222" stroke-width="0.2" text-anchor="end" transform="translate(308.60,551.60) rotate(-45) scale(1,1.0)">CNV</text>
<text font-size="7.8" fill="#222" stroke="#222" stroke-width="0.2" text-anchor="end" transform="translate(320.40,551.60) rotate(-45) scale(1,1.0)">ABX</text>
<text font-size="7.8" fill="#222" stroke="#222" stroke-width="0.2" text-anchor="end" transform="translate(332.20,551.60) rotate(-45) scale(1,1.0)">NEO</text>
<text font-size="9.7" font-weight="bold" stroke="#000" stroke-width="0.12" text-anchor="middle" transform="translate(283.50,505.7) rotate(-90) scale(1,1.0)">Cells (%)</text>
<text font-size="9.7" font-weight="bold" text-anchor="middle" fill="#000" stroke="#000" stroke-width="0.12"  transform="translate(317.60,439.80) scale(1,1.0)">IMs</text>
<polyline points="305.40,456.00 305.40,453.70 330.10,453.70 330.10,456.00" fill="none" stroke="#111" stroke-width="1.05"/>
<circle cx="315.88" cy="450.50" r="1.05" fill="#111"/>
<circle cx="319.62" cy="450.50" r="1.05" fill="#111"/>
<polyline points="305.40,468.50 305.40,466.20 318.10,466.20 318.10,468.50" fill="none" stroke="#111" stroke-width="1.05"/>
<circle cx="311.75" cy="463.00" r="1.05" fill="#111"/>
<circle cx="307.40" cy="479.90" r="1.85" fill="#111"/>
<circle cx="303.40" cy="482.00" r="1.85" fill="#111"/>
<circle cx="305.30" cy="483.30" r="1.85" fill="#111"/>
<circle cx="303.40" cy="489.60" r="1.85" fill="#111"/>
<circle cx="304.80" cy="488.60" r="1.85" fill="#111"/>
<circle cx="306.70" cy="489.90" r="1.85" fill="#111"/>
<circle cx="308.20" cy="490.20" r="1.85" fill="#111"/>
<circle cx="305.30" cy="496.20" r="1.85" fill="#111"/>
<circle cx="303.50" cy="500.10" r="1.85" fill="#111"/>
<circle cx="305.60" cy="499.10" r="1.85" fill="#111"/>
<circle cx="307.70" cy="500.10" r="1.85" fill="#111"/>
<circle cx="304.80" cy="502.00" r="1.85" fill="#111"/>
<circle cx="305.30" cy="515.00" r="1.85" fill="#111"/>
<circle cx="305.30" cy="520.50" r="1.85" fill="#111"/>
<line x1="305.30" y1="495.00" x2="305.30" y2="495.00" stroke="#000" stroke-width="1.2" />
<circle cx="317.60" cy="483.10" r="1.45" fill="#fff" stroke="#2a2a2a" stroke-width="1.15"/>
<circle cx="317.60" cy="506.10" r="1.45" fill="#fff" stroke="#2a2a2a" stroke-width="1.15"/>
<circle cx="317.60" cy="511.00" r="1.85" fill="#2a2a2a"/>
<circle cx="317.60" cy="516.20" r="1.45" fill="#fff" stroke="#2a2a2a" stroke-width="1.15"/>
<circle cx="317.60" cy="522.90" r="1.45" fill="#fff" stroke="#2a2a2a" stroke-width="1.15"/>
<line x1="313.30" y1="511.00" x2="321.90" y2="511.00" stroke="#000" stroke-width="1.2" />
<circle cx="331.70" cy="502.70" r="1.85" fill="#8c8c8c"/>
<circle cx="329.20" cy="506.10" r="1.85" fill="#8c8c8c"/>
<circle cx="328.00" cy="510.10" r="1.85" fill="#8c8c8c"/>
<circle cx="326.80" cy="513.10" r="1.85" fill="#8c8c8c"/>
<circle cx="330.40" cy="514.30" r="1.85" fill="#8c8c8c"/>
<circle cx="327.40" cy="516.20" r="1.85" fill="#8c8c8c"/>
<circle cx="331.00" cy="517.40" r="1.85" fill="#8c8c8c"/>
<circle cx="329.60" cy="519.20" r="1.85" fill="#8c8c8c"/>
<line x1="325.50" y1="512.50" x2="333.50" y2="512.50" stroke="#000" stroke-width="1.2" />
<line x1="400.80" y1="467.50" x2="400.80" y2="542.80" stroke="#222" stroke-width="1.1" />
<line x1="400.30" y1="542.30" x2="436.70" y2="542.30" stroke="#222" stroke-width="1.1" />
<line x1="398.10" y1="542.30" x2="400.80" y2="542.30" stroke="#222" stroke-width="1" />
<text font-size="7.7" text-anchor="end" fill="#222" stroke="#222" stroke-width="0.2"  transform="translate(395.80,545.20) scale(1,1.0)">0</text>
<line x1="398.10" y1="528.00" x2="400.80" y2="528.00" stroke="#222" stroke-width="1" />
<text font-size="7.7" text-anchor="end" fill="#222" stroke="#222" stroke-width="0.2"  transform="translate(395.80,530.90) scale(1,1.0)">2</text>
<line x1="398.10" y1="513.70" x2="400.80" y2="513.70" stroke="#222" stroke-width="1" />
<text font-size="7.7" text-anchor="end" fill="#222" stroke="#222" stroke-width="0.2"  transform="translate(395.80,516.60) scale(1,1.0)">4</text>
<line x1="398.10" y1="499.40" x2="400.80" y2="499.40" stroke="#222" stroke-width="1" />
<text font-size="7.7" text-anchor="end" fill="#222" stroke="#222" stroke-width="0.2"  transform="translate(395.80,502.30) scale(1,1.0)">6</text>
<line x1="398.10" y1="485.10" x2="400.80" y2="485.10" stroke="#222" stroke-width="1" />
<text font-size="7.7" text-anchor="end" fill="#222" stroke="#222" stroke-width="0.2"  transform="translate(395.80,488.00) scale(1,1.0)">8</text>
<line x1="398.10" y1="470.80" x2="400.80" y2="470.80" stroke="#222" stroke-width="1" />
<text font-size="7.7" text-anchor="end" fill="#222" stroke="#222" stroke-width="0.2"  transform="translate(395.80,473.70) scale(1,1.0)">10</text>
<line x1="407.00" y1="542.30" x2="407.00" y2="544.70" stroke="#222" stroke-width="1" />
<line x1="418.80" y1="542.30" x2="418.80" y2="544.70" stroke="#222" stroke-width="1" />
<line x1="431.10" y1="542.30" x2="431.10" y2="544.70" stroke="#222" stroke-width="1" />
<text font-size="7.8" fill="#222" stroke="#222" stroke-width="0.2" text-anchor="end" transform="translate(409.80,551.60) rotate(-45) scale(1,1.0)">CNV</text>
<text font-size="7.8" fill="#222" stroke="#222" stroke-width="0.2" text-anchor="end" transform="translate(421.60,551.60) rotate(-45) scale(1,1.0)">ABX</text>
<text font-size="7.8" fill="#222" stroke="#222" stroke-width="0.2" text-anchor="end" transform="translate(433.90,551.60) rotate(-45) scale(1,1.0)">NEO</text>
<text font-size="9.7" font-weight="bold" stroke="#000" stroke-width="0.12" text-anchor="middle" transform="translate(380.80,505.7) rotate(-90) scale(1,1.0)">Cells (%)</text>
<text font-size="9.7" font-weight="bold" text-anchor="middle" fill="#000" stroke="#000" stroke-width="0.12"  transform="translate(419.10,439.80) scale(1,1.0)">PMNs</text>
<polyline points="406.60,456.00 406.60,453.70 431.80,453.70 431.80,456.00" fill="none" stroke="#111" stroke-width="1.05"/>
<circle cx="419.20" cy="450.50" r="1.05" fill="#111"/>
<polyline points="406.60,468.50 406.60,466.20 419.30,466.20 419.30,468.50" fill="none" stroke="#111" stroke-width="1.05"/>
<circle cx="412.95" cy="463.00" r="1.05" fill="#111"/>
<circle cx="407.00" cy="482.40" r="1.85" fill="#111"/>
<circle cx="404.80" cy="487.20" r="1.85" fill="#111"/>
<circle cx="409.20" cy="486.40" r="1.85" fill="#111"/>
<circle cx="407.40" cy="490.70" r="1.85" fill="#111"/>
<circle cx="407.40" cy="504.30" r="1.85" fill="#111"/>
<line x1="402.30" y1="487.00" x2="411.50" y2="487.00" stroke="#000" stroke-width="1.2" />
<circle cx="418.30" cy="497.30" r="1.45" fill="#fff" stroke="#2a2a2a" stroke-width="1.15"/>
<circle cx="418.30" cy="504.30" r="1.45" fill="#fff" stroke="#2a2a2a" stroke-width="1.15"/>
<circle cx="416.20" cy="507.50" r="1.85" fill="#2a2a2a"/>
<circle cx="418.70" cy="510.80" r="1.45" fill="#fff" stroke="#2a2a2a" stroke-width="1.15"/>
<circle cx="419.00" cy="515.60" r="1.85" fill="#2a2a2a"/>
<line x1="414.50" y1="507.70" x2="423.20" y2="507.70" stroke="#000" stroke-width="1.2" />
<circle cx="432.80" cy="494.70" r="1.85" fill="#8c8c8c"/>
<circle cx="430.60" cy="495.50" r="1.85" fill="#8c8c8c"/>
<circle cx="428.40" cy="498.60" r="1.85" fill="#8c8c8c"/>
<circle cx="430.60" cy="503.00" r="1.85" fill="#8c8c8c"/>
<circle cx="430.60" cy="514.30" r="1.85" fill="#8c8c8c"/>
<line x1="427.50" y1="498.40" x2="435.80" y2="498.40" stroke="#000" stroke-width="1.2" />
<line x1="477.20" y1="467.50" x2="477.20" y2="542.80" stroke="#222" stroke-width="1.1" />
<line x1="476.70" y1="542.30" x2="512.60" y2="542.30" stroke="#222" stroke-width="1.1" />
<line x1="474.50" y1="542.30" x2="477.20" y2="542.30" stroke="#222" stroke-width="1" />
<text font-size="7.7" text-anchor="end" fill="#222" stroke="#222" stroke-width="0.2"  transform="translate(470.90,545.20) scale(1,1.0)">0.0</text>
<line x1="474.50" y1="518.47" x2="477.20" y2="518.47" stroke="#222" stroke-width="1" />
<text font-size="7.7" text-anchor="end" fill="#222" stroke="#222" stroke-width="0.2"  transform="translate(470.90,521.37) scale(1,1.0)">1.0</text>
<line x1="474.50" y1="494.63" x2="477.20" y2="494.63" stroke="#222" stroke-width="1" />
<text font-size="7.7" text-anchor="end" fill="#222" stroke="#222" stroke-width="0.2"  transform="translate(470.90,497.53) scale(1,1.0)">2.0</text>
<line x1="474.50" y1="470.80" x2="477.20" y2="470.80" stroke="#222" stroke-width="1" />
<text font-size="7.7" text-anchor="end" fill="#222" stroke="#222" stroke-width="0.2"  transform="translate(470.90,473.70) scale(1,1.0)">3.0</text>
<line x1="475.60" y1="530.38" x2="477.20" y2="530.38" stroke="#222" stroke-width="0.8" />
<line x1="475.60" y1="506.55" x2="477.20" y2="506.55" stroke="#222" stroke-width="0.8" />
<line x1="475.60" y1="482.72" x2="477.20" y2="482.72" stroke="#222" stroke-width="0.8" />
<line x1="483.40" y1="542.30" x2="483.40" y2="544.70" stroke="#222" stroke-width="1" />
<line x1="495.40" y1="542.30" x2="495.40" y2="544.70" stroke="#222" stroke-width="1" />
<line x1="507.30" y1="542.30" x2="507.30" y2="544.70" stroke="#222" stroke-width="1" />
<text font-size="7.8" fill="#222" stroke="#222" stroke-width="0.2" text-anchor="end" transform="translate(486.20,551.60) rotate(-45) scale(1,1.0)">CNV</text>
<text font-size="7.8" fill="#222" stroke="#222" stroke-width="0.2" text-anchor="end" transform="translate(498.20,551.60) rotate(-45) scale(1,1.0)">ABX</text>
<text font-size="7.8" fill="#222" stroke="#222" stroke-width="0.2" text-anchor="end" transform="translate(510.10,551.60) rotate(-45) scale(1,1.0)">NEO</text>
<text font-size="9.7" font-weight="bold" stroke="#000" stroke-width="0.12" text-anchor="middle" transform="translate(455.60,505.7) rotate(-90) scale(1,1.0)">Cells (%)</text>
<text font-size="9.7" font-weight="bold" text-anchor="middle" fill="#000" stroke="#000" stroke-width="0.12"  transform="translate(495.30,439.80) scale(1,1.0)">IMs</text>
<polyline points="483.00,456.00 483.00,453.70 508.00,453.70 508.00,456.00" fill="none" stroke="#111" stroke-width="1.05"/>
<circle cx="495.50" cy="450.50" r="1.05" fill="#111"/>
<polyline points="483.00,468.50 483.00,466.20 495.90,466.20 495.90,468.50" fill="none" stroke="#111" stroke-width="1.05"/>
<circle cx="487.57" cy="463.00" r="1.05" fill="#111"/>
<circle cx="491.32" cy="463.00" r="1.05" fill="#111"/>
<circle cx="483.70" cy="496.00" r="1.85" fill="#111"/>
<circle cx="483.00" cy="501.50" r="1.85" fill="#111"/>
<circle cx="485.20" cy="501.50" r="1.85" fill="#111"/>
<circle cx="483.70" cy="508.90" r="1.85" fill="#111"/>
<circle cx="483.70" cy="514.00" r="1.85" fill="#111"/>
<line x1="479.00" y1="501.50" x2="487.60" y2="501.50" stroke="#000" stroke-width="1.2" />
<circle cx="495.40" cy="513.20" r="1.45" fill="#fff" stroke="#2a2a2a" stroke-width="1.15"/>
<circle cx="495.40" cy="522.00" r="1.45" fill="#fff" stroke="#2a2a2a" stroke-width="1.15"/>
<circle cx="493.00" cy="529.70" r="1.85" fill="#2a2a2a"/>
<circle cx="497.40" cy="530.10" r="1.45" fill="#fff" stroke="#2a2a2a" stroke-width="1.15"/>
<circle cx="494.80" cy="532.70" r="1.85" fill="#2a2a2a"/>
<line x1="490.60" y1="529.60" x2="499.40" y2="529.60" stroke="#000" stroke-width="1.2" />
<circle cx="507.40" cy="500.40" r="1.85" fill="#8c8c8c"/>
<circle cx="507.40" cy="513.50" r="1.85" fill="#8c8c8c"/>
<circle cx="509.60" cy="521.60" r="1.85" fill="#8c8c8c"/>
<circle cx="507.40" cy="525.30" r="1.85" fill="#8c8c8c"/>
<line x1="503.00" y1="519.00" x2="511.80" y2="519.00" stroke="#000" stroke-width="1.2" />
</g>
<rect x="0.5" y="0.5" width="519" height="571" fill="none" stroke="#1e1e1e" stroke-width="1"/>
</svg>
</body></html>
